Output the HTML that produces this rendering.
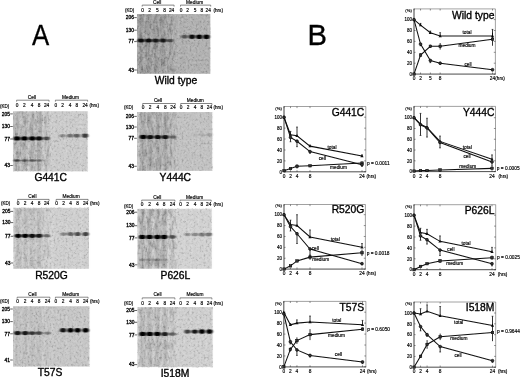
<!DOCTYPE html>
<html><head><meta charset="utf-8"><title>figure</title>
<style>html,body{margin:0;padding:0;background:#fff;}svg{display:block;}text{font-family:"Liberation Sans",sans-serif;}</style>
</head><body>
<svg width="520" height="377" viewBox="0 0 520 377">
<defs>
<linearGradient id="fade" x1="0" x2="1" y1="0" y2="0"><stop offset="0" stop-color="#fff"/><stop offset="1" stop-color="#000"/></linearGradient>
<filter id="b1" x="-50%" y="-10%" width="200%" height="120%"><feGaussianBlur stdDeviation="0.9 0.1"/></filter>
<filter id="b2" x="-50%" y="-150%" width="200%" height="400%"><feGaussianBlur stdDeviation="0.8 0.75"/></filter>
<filter id="nA0" x="0" y="0" width="100%" height="100%"><feTurbulence type="fractalNoise" baseFrequency="0.5 0.42" numOctaves="2" seed="2" result="n"/><feColorMatrix in="n" type="matrix" values="0 0 0 0 0  0 0 0 0 0  0 0 0 0 0  0.42 0 0 0 -0.175" result="d"/><feColorMatrix in="n" type="matrix" values="0 0 0 0 1  0 0 0 0 1  0 0 0 0 1  0 0.42 0 0 -0.175" result="l"/><feMerge><feMergeNode in="d"/><feMergeNode in="l"/></feMerge><feGaussianBlur stdDeviation="0.5"/></filter><filter id="nD0" x="0" y="0" width="100%" height="100%"><feTurbulence type="fractalNoise" baseFrequency="0.4 0.12" numOctaves="2" seed="1" result="n"/><feColorMatrix in="n" type="matrix" values="0 0 0 0 0  0 0 0 0 0  0 0 0 0 0  0 0.7 0 0 -0.27"/><feGaussianBlur stdDeviation="0.5 0.4"/></filter><filter id="nA1" x="0" y="0" width="100%" height="100%"><feTurbulence type="fractalNoise" baseFrequency="0.5 0.42" numOctaves="2" seed="5" result="n"/><feColorMatrix in="n" type="matrix" values="0 0 0 0 0  0 0 0 0 0  0 0 0 0 0  0.42 0 0 0 -0.175" result="d"/><feColorMatrix in="n" type="matrix" values="0 0 0 0 1  0 0 0 0 1  0 0 0 0 1  0 0.42 0 0 -0.175" result="l"/><feMerge><feMergeNode in="d"/><feMergeNode in="l"/></feMerge><feGaussianBlur stdDeviation="0.5"/></filter><filter id="nD1" x="0" y="0" width="100%" height="100%"><feTurbulence type="fractalNoise" baseFrequency="0.4 0.12" numOctaves="2" seed="6" result="n"/><feColorMatrix in="n" type="matrix" values="0 0 0 0 0  0 0 0 0 0  0 0 0 0 0  0 0.7 0 0 -0.27"/><feGaussianBlur stdDeviation="0.5 0.4"/></filter><filter id="nA2" x="0" y="0" width="100%" height="100%"><feTurbulence type="fractalNoise" baseFrequency="0.5 0.42" numOctaves="2" seed="8" result="n"/><feColorMatrix in="n" type="matrix" values="0 0 0 0 0  0 0 0 0 0  0 0 0 0 0  0.42 0 0 0 -0.175" result="d"/><feColorMatrix in="n" type="matrix" values="0 0 0 0 1  0 0 0 0 1  0 0 0 0 1  0 0.42 0 0 -0.175" result="l"/><feMerge><feMergeNode in="d"/><feMergeNode in="l"/></feMerge><feGaussianBlur stdDeviation="0.5"/></filter><filter id="nD2" x="0" y="0" width="100%" height="100%"><feTurbulence type="fractalNoise" baseFrequency="0.4 0.12" numOctaves="2" seed="11" result="n"/><feColorMatrix in="n" type="matrix" values="0 0 0 0 0  0 0 0 0 0  0 0 0 0 0  0 0.7 0 0 -0.27"/><feGaussianBlur stdDeviation="0.5 0.4"/></filter><filter id="nA3" x="0" y="0" width="100%" height="100%"><feTurbulence type="fractalNoise" baseFrequency="0.5 0.42" numOctaves="2" seed="11" result="n"/><feColorMatrix in="n" type="matrix" values="0 0 0 0 0  0 0 0 0 0  0 0 0 0 0  0.42 0 0 0 -0.175" result="d"/><feColorMatrix in="n" type="matrix" values="0 0 0 0 1  0 0 0 0 1  0 0 0 0 1  0 0.42 0 0 -0.175" result="l"/><feMerge><feMergeNode in="d"/><feMergeNode in="l"/></feMerge><feGaussianBlur stdDeviation="0.5"/></filter><filter id="nD3" x="0" y="0" width="100%" height="100%"><feTurbulence type="fractalNoise" baseFrequency="0.4 0.12" numOctaves="2" seed="16" result="n"/><feColorMatrix in="n" type="matrix" values="0 0 0 0 0  0 0 0 0 0  0 0 0 0 0  0 0.7 0 0 -0.27"/><feGaussianBlur stdDeviation="0.5 0.4"/></filter><filter id="nA4" x="0" y="0" width="100%" height="100%"><feTurbulence type="fractalNoise" baseFrequency="0.5 0.42" numOctaves="2" seed="14" result="n"/><feColorMatrix in="n" type="matrix" values="0 0 0 0 0  0 0 0 0 0  0 0 0 0 0  0.42 0 0 0 -0.175" result="d"/><feColorMatrix in="n" type="matrix" values="0 0 0 0 1  0 0 0 0 1  0 0 0 0 1  0 0.42 0 0 -0.175" result="l"/><feMerge><feMergeNode in="d"/><feMergeNode in="l"/></feMerge><feGaussianBlur stdDeviation="0.5"/></filter><filter id="nD4" x="0" y="0" width="100%" height="100%"><feTurbulence type="fractalNoise" baseFrequency="0.4 0.12" numOctaves="2" seed="21" result="n"/><feColorMatrix in="n" type="matrix" values="0 0 0 0 0  0 0 0 0 0  0 0 0 0 0  0 0.7 0 0 -0.27"/><feGaussianBlur stdDeviation="0.5 0.4"/></filter><filter id="nA5" x="0" y="0" width="100%" height="100%"><feTurbulence type="fractalNoise" baseFrequency="0.5 0.42" numOctaves="2" seed="17" result="n"/><feColorMatrix in="n" type="matrix" values="0 0 0 0 0  0 0 0 0 0  0 0 0 0 0  0.42 0 0 0 -0.175" result="d"/><feColorMatrix in="n" type="matrix" values="0 0 0 0 1  0 0 0 0 1  0 0 0 0 1  0 0.42 0 0 -0.175" result="l"/><feMerge><feMergeNode in="d"/><feMergeNode in="l"/></feMerge><feGaussianBlur stdDeviation="0.5"/></filter><filter id="nD5" x="0" y="0" width="100%" height="100%"><feTurbulence type="fractalNoise" baseFrequency="0.4 0.12" numOctaves="2" seed="26" result="n"/><feColorMatrix in="n" type="matrix" values="0 0 0 0 0  0 0 0 0 0  0 0 0 0 0  0 0.7 0 0 -0.27"/><feGaussianBlur stdDeviation="0.5 0.4"/></filter><filter id="nA6" x="0" y="0" width="100%" height="100%"><feTurbulence type="fractalNoise" baseFrequency="0.5 0.42" numOctaves="2" seed="20" result="n"/><feColorMatrix in="n" type="matrix" values="0 0 0 0 0  0 0 0 0 0  0 0 0 0 0  0.42 0 0 0 -0.175" result="d"/><feColorMatrix in="n" type="matrix" values="0 0 0 0 1  0 0 0 0 1  0 0 0 0 1  0 0.42 0 0 -0.175" result="l"/><feMerge><feMergeNode in="d"/><feMergeNode in="l"/></feMerge><feGaussianBlur stdDeviation="0.5"/></filter><filter id="nD6" x="0" y="0" width="100%" height="100%"><feTurbulence type="fractalNoise" baseFrequency="0.4 0.12" numOctaves="2" seed="31" result="n"/><feColorMatrix in="n" type="matrix" values="0 0 0 0 0  0 0 0 0 0  0 0 0 0 0  0 0.7 0 0 -0.27"/><feGaussianBlur stdDeviation="0.5 0.4"/></filter>
<filter id="soft" x="0" y="0" width="100%" height="100%"><feGaussianBlur stdDeviation="0.45"/></filter>
</defs>
<rect width="520" height="377" fill="#fff"/>
<g filter="url(#soft)">
<g>
<rect x="137" y="14" width="73.30" height="59.80" fill="#b4b4b4"/>
<rect x="138.60" y="14.50" width="5" height="58.80" fill="#707070" opacity="0.34" filter="url(#b1)"/>
<rect x="146.10" y="14.50" width="5" height="58.80" fill="#707070" opacity="0.34" filter="url(#b1)"/>
<rect x="153.20" y="14.50" width="5" height="58.80" fill="#707070" opacity="0.34" filter="url(#b1)"/>
<rect x="160.50" y="14.50" width="5" height="58.80" fill="#707070" opacity="0.34" filter="url(#b1)"/>
<rect x="167.70" y="14.50" width="5" height="58.80" fill="#707070" opacity="0.14" filter="url(#b1)"/>
<rect x="178.00" y="14.50" width="6" height="58.80" fill="#888" opacity="0.1" filter="url(#b1)"/>
<rect x="181.60" y="14.50" width="6" height="58.80" fill="#888" opacity="0.1" filter="url(#b1)"/>
<rect x="189.00" y="14.50" width="6" height="58.80" fill="#888" opacity="0.1" filter="url(#b1)"/>
<rect x="196.20" y="14.50" width="6" height="58.80" fill="#888" opacity="0.1" filter="url(#b1)"/>
<rect x="203.40" y="14.50" width="6" height="58.80" fill="#888" opacity="0.1" filter="url(#b1)"/>
<mask id="mk0" maskUnits="userSpaceOnUse" x="137" y="14" width="73.30" height="59.80"><rect x="137" y="14" width="37.30" height="59.80" fill="#fff"/><rect x="174.30" y="14" width="4" height="59.80" fill="url(#fade)"/></mask>
<g mask="url(#mk0)" opacity="0.75"><rect x="137" y="14" width="73.30" height="59.80" filter="url(#nD0)"/></g>
<rect x="137" y="14" width="73.30" height="59.80" filter="url(#nA0)"/>
<ellipse cx="141.10" cy="40.50" rx="3.5" ry="2.11" fill="#000" opacity="0.95" filter="url(#b2)"/>
<ellipse cx="148.60" cy="40.50" rx="3.5" ry="2.11" fill="#000" opacity="0.95" filter="url(#b2)"/>
<ellipse cx="155.70" cy="40.50" rx="3.5" ry="2.02" fill="#000" opacity="0.84" filter="url(#b2)"/>
<ellipse cx="163.00" cy="40.50" rx="3.5" ry="2.02" fill="#000" opacity="0.84" filter="url(#b2)"/>
<ellipse cx="170.20" cy="40.50" rx="3.5" ry="1.75" fill="#000" opacity="0.53" filter="url(#b2)"/>
<ellipse cx="184.60" cy="36.70" rx="3.2" ry="1.95" fill="#000" opacity="0.53" filter="url(#b2)"/>
<ellipse cx="192.00" cy="36.70" rx="3.2" ry="2.23" fill="#000" opacity="0.95" filter="url(#b2)"/>
<ellipse cx="199.20" cy="36.70" rx="3.2" ry="2.27" fill="#000" opacity="1.00" filter="url(#b2)"/>
<ellipse cx="206.40" cy="36.70" rx="3.2" ry="2.27" fill="#000" opacity="1.00" filter="url(#b2)"/>
</g>
<text x="142.70" y="12.00" font-size="4.8" text-anchor="middle" font-weight="normal" fill="#000" stroke="#000" stroke-width="0.16" >0</text>
<text x="149.70" y="12.00" font-size="4.8" text-anchor="middle" font-weight="normal" fill="#000" stroke="#000" stroke-width="0.16" >2</text>
<text x="157.30" y="12.00" font-size="4.8" text-anchor="middle" font-weight="normal" fill="#000" stroke="#000" stroke-width="0.16" >5</text>
<text x="164.60" y="12.00" font-size="4.8" text-anchor="middle" font-weight="normal" fill="#000" stroke="#000" stroke-width="0.16" >8</text>
<text x="171.60" y="12.00" font-size="4.8" text-anchor="middle" font-weight="normal" fill="#000" stroke="#000" stroke-width="0.16" >24</text>
<text x="181.00" y="12.00" font-size="4.8" text-anchor="middle" font-weight="normal" fill="#000" stroke="#000" stroke-width="0.16" >0</text>
<text x="187.50" y="12.00" font-size="4.8" text-anchor="middle" font-weight="normal" fill="#000" stroke="#000" stroke-width="0.16" >2</text>
<text x="195.00" y="12.00" font-size="4.8" text-anchor="middle" font-weight="normal" fill="#000" stroke="#000" stroke-width="0.16" >5</text>
<text x="201.90" y="12.00" font-size="4.8" text-anchor="middle" font-weight="normal" fill="#000" stroke="#000" stroke-width="0.16" >8</text>
<text x="208.20" y="12.00" font-size="4.8" text-anchor="middle" font-weight="normal" fill="#000" stroke="#000" stroke-width="0.16" >24</text>
<text x="125.00" y="12.00" font-size="4.5" text-anchor="start" font-weight="normal" fill="#000" stroke="#000" stroke-width="0.16" >(KD)</text>
<text x="213.50" y="12.00" font-size="4.6" text-anchor="start" font-weight="normal" fill="#000" stroke="#000" stroke-width="0.16" >(hrs)</text>
<text x="157.15" y="3.50" font-size="4.8" text-anchor="middle" font-weight="normal" fill="#000" stroke="#000" stroke-width="0.16" >Cell</text>
<text x="194.60" y="3.50" font-size="4.8" text-anchor="middle" font-weight="normal" fill="#000" stroke="#000" stroke-width="0.16" >Medium</text>
<line x1="142.20" y1="5.10" x2="174.10" y2="5.10" stroke="#222" stroke-width="0.55"/>
<line x1="142.20" y1="5.10" x2="142.20" y2="6.60" stroke="#222" stroke-width="0.5"/>
<line x1="174.10" y1="5.10" x2="174.10" y2="6.60" stroke="#222" stroke-width="0.5"/>
<line x1="180.50" y1="5.10" x2="210.70" y2="5.10" stroke="#222" stroke-width="0.55"/>
<line x1="180.50" y1="5.10" x2="180.50" y2="6.60" stroke="#222" stroke-width="0.5"/>
<line x1="210.70" y1="5.10" x2="210.70" y2="6.60" stroke="#222" stroke-width="0.5"/>
<text x="134.00" y="19.30" font-size="4.9" text-anchor="end" font-weight="normal" fill="#000" stroke="#000" stroke-width="0.3" >206</text>
<line x1="134.20" y1="17.60" x2="136.80" y2="17.60" stroke="#222" stroke-width="0.7"/>
<text x="134.00" y="31.90" font-size="4.9" text-anchor="end" font-weight="normal" fill="#000" stroke="#000" stroke-width="0.3" >130</text>
<line x1="134.20" y1="30.20" x2="136.80" y2="30.20" stroke="#222" stroke-width="0.7"/>
<text x="134.00" y="43.30" font-size="4.9" text-anchor="end" font-weight="normal" fill="#000" stroke="#000" stroke-width="0.3" >77</text>
<line x1="134.20" y1="41.60" x2="136.80" y2="41.60" stroke="#222" stroke-width="0.7"/>
<text x="134.00" y="71.70" font-size="4.9" text-anchor="end" font-weight="normal" fill="#000" stroke="#000" stroke-width="0.3" >43</text>
<line x1="134.20" y1="70.00" x2="136.80" y2="70.00" stroke="#222" stroke-width="0.7"/>
<text x="0.00" y="0.00" font-size="10.3" text-anchor="middle" font-weight="normal" fill="#000" stroke="#000" stroke-width="0.34" transform="translate(176,84) scale(1.0,1)">Wild type</text>
<g>
<rect x="13" y="111.2" width="74.60" height="60.20" fill="#d3d3d3"/>
<rect x="14.60" y="111.70" width="5" height="59.20" fill="#707070" opacity="0.30" filter="url(#b1)"/>
<rect x="21.90" y="111.70" width="5" height="59.20" fill="#707070" opacity="0.30" filter="url(#b1)"/>
<rect x="29.70" y="111.70" width="5" height="59.20" fill="#707070" opacity="0.30" filter="url(#b1)"/>
<rect x="36.50" y="111.70" width="5" height="59.20" fill="#707070" opacity="0.30" filter="url(#b1)"/>
<rect x="44.10" y="111.70" width="5" height="59.20" fill="#707070" opacity="0.12" filter="url(#b1)"/>
<rect x="52.90" y="111.70" width="6" height="59.20" fill="#888" opacity="0.1" filter="url(#b1)"/>
<rect x="59.50" y="111.70" width="6" height="59.20" fill="#888" opacity="0.1" filter="url(#b1)"/>
<rect x="67.00" y="111.70" width="6" height="59.20" fill="#888" opacity="0.1" filter="url(#b1)"/>
<rect x="73.80" y="111.70" width="6" height="59.20" fill="#888" opacity="0.1" filter="url(#b1)"/>
<rect x="82.10" y="111.70" width="6" height="59.20" fill="#888" opacity="0.1" filter="url(#b1)"/>
<mask id="mk1" maskUnits="userSpaceOnUse" x="13" y="111.2" width="74.60" height="60.20"><rect x="13" y="111.2" width="36.25" height="60.20" fill="#fff"/><rect x="49.25" y="111.2" width="4" height="60.20" fill="url(#fade)"/></mask>
<g mask="url(#mk1)" opacity="0.66"><rect x="13" y="111.2" width="74.60" height="60.20" filter="url(#nD1)"/></g>
<rect x="13" y="111.2" width="74.60" height="60.20" filter="url(#nA1)"/>
<ellipse cx="17.10" cy="138.40" rx="3.5" ry="2.20" fill="#000" opacity="1.00" filter="url(#b2)"/>
<ellipse cx="24.40" cy="138.40" rx="3.5" ry="2.20" fill="#000" opacity="1.00" filter="url(#b2)"/>
<ellipse cx="32.20" cy="138.40" rx="3.5" ry="2.16" fill="#000" opacity="1.00" filter="url(#b2)"/>
<ellipse cx="39.00" cy="138.40" rx="3.5" ry="2.11" fill="#000" opacity="0.95" filter="url(#b2)"/>
<ellipse cx="46.60" cy="138.40" rx="3.5" ry="1.80" fill="#000" opacity="0.58" filter="url(#b2)"/>
<ellipse cx="62.50" cy="135.70" rx="3.2" ry="1.81" fill="#000" opacity="0.32" filter="url(#b2)"/>
<ellipse cx="70.00" cy="135.70" rx="3.2" ry="1.89" fill="#000" opacity="0.44" filter="url(#b2)"/>
<ellipse cx="76.80" cy="135.70" rx="3.2" ry="1.95" fill="#000" opacity="0.53" filter="url(#b2)"/>
<ellipse cx="85.10" cy="135.70" rx="3.2" ry="2.08" fill="#000" opacity="0.71" filter="url(#b2)"/>
<ellipse cx="17.10" cy="160.50" rx="3.4" ry="1.2" fill="#000" opacity="0.65" filter="url(#b2)"/>
<ellipse cx="24.40" cy="160.50" rx="3.4" ry="1.2" fill="#000" opacity="0.52" filter="url(#b2)"/>
<ellipse cx="32.20" cy="160.50" rx="3.4" ry="1.2" fill="#000" opacity="0.52" filter="url(#b2)"/>
<ellipse cx="39.00" cy="160.50" rx="3.4" ry="1.2" fill="#000" opacity="0.39" filter="url(#b2)"/>
<ellipse cx="46.60" cy="160.50" rx="3.4" ry="1.2" fill="#000" opacity="0.07" filter="url(#b2)"/>
</g>
<text x="17.10" y="107.00" font-size="4.8" text-anchor="middle" font-weight="normal" fill="#000" stroke="#000" stroke-width="0.16" >0</text>
<text x="24.40" y="107.00" font-size="4.8" text-anchor="middle" font-weight="normal" fill="#000" stroke="#000" stroke-width="0.16" >2</text>
<text x="32.20" y="107.00" font-size="4.8" text-anchor="middle" font-weight="normal" fill="#000" stroke="#000" stroke-width="0.16" >4</text>
<text x="39.00" y="107.00" font-size="4.8" text-anchor="middle" font-weight="normal" fill="#000" stroke="#000" stroke-width="0.16" >8</text>
<text x="46.60" y="107.00" font-size="4.8" text-anchor="middle" font-weight="normal" fill="#000" stroke="#000" stroke-width="0.16" >24</text>
<text x="55.90" y="107.00" font-size="4.8" text-anchor="middle" font-weight="normal" fill="#000" stroke="#000" stroke-width="0.16" >0</text>
<text x="62.50" y="107.00" font-size="4.8" text-anchor="middle" font-weight="normal" fill="#000" stroke="#000" stroke-width="0.16" >2</text>
<text x="70.00" y="107.00" font-size="4.8" text-anchor="middle" font-weight="normal" fill="#000" stroke="#000" stroke-width="0.16" >4</text>
<text x="76.80" y="107.00" font-size="4.8" text-anchor="middle" font-weight="normal" fill="#000" stroke="#000" stroke-width="0.16" >8</text>
<text x="85.10" y="107.00" font-size="4.8" text-anchor="middle" font-weight="normal" fill="#000" stroke="#000" stroke-width="0.16" >24</text>
<text x="0.00" y="108.20" font-size="4.5" text-anchor="start" font-weight="normal" fill="#000" stroke="#000" stroke-width="0.16" >(KD)</text>
<text x="89.50" y="107.20" font-size="4.6" text-anchor="start" font-weight="normal" fill="#000" stroke="#000" stroke-width="0.16" >(hrs)</text>
<text x="31.85" y="98.60" font-size="4.8" text-anchor="middle" font-weight="normal" fill="#000" stroke="#000" stroke-width="0.16" >Cell</text>
<text x="70.50" y="98.60" font-size="4.8" text-anchor="middle" font-weight="normal" fill="#000" stroke="#000" stroke-width="0.16" >Medium</text>
<line x1="16.60" y1="100.20" x2="49.10" y2="100.20" stroke="#222" stroke-width="0.55"/>
<line x1="16.60" y1="100.20" x2="16.60" y2="101.70" stroke="#222" stroke-width="0.5"/>
<line x1="49.10" y1="100.20" x2="49.10" y2="101.70" stroke="#222" stroke-width="0.5"/>
<line x1="55.40" y1="100.20" x2="87.60" y2="100.20" stroke="#222" stroke-width="0.55"/>
<line x1="55.40" y1="100.20" x2="55.40" y2="101.70" stroke="#222" stroke-width="0.5"/>
<line x1="87.60" y1="100.20" x2="87.60" y2="101.70" stroke="#222" stroke-width="0.5"/>
<text x="10.00" y="115.60" font-size="4.9" text-anchor="end" font-weight="normal" fill="#000" stroke="#000" stroke-width="0.3" >205</text>
<line x1="10.20" y1="113.90" x2="12.80" y2="113.90" stroke="#222" stroke-width="0.7"/>
<text x="10.00" y="128.20" font-size="4.9" text-anchor="end" font-weight="normal" fill="#000" stroke="#000" stroke-width="0.3" >130</text>
<line x1="10.20" y1="126.50" x2="12.80" y2="126.50" stroke="#222" stroke-width="0.7"/>
<text x="10.00" y="140.70" font-size="4.9" text-anchor="end" font-weight="normal" fill="#000" stroke="#000" stroke-width="0.3" >77</text>
<line x1="10.20" y1="139.00" x2="12.80" y2="139.00" stroke="#222" stroke-width="0.7"/>
<text x="10.00" y="167.20" font-size="4.9" text-anchor="end" font-weight="normal" fill="#000" stroke="#000" stroke-width="0.3" >43</text>
<line x1="10.20" y1="165.50" x2="12.80" y2="165.50" stroke="#222" stroke-width="0.7"/>
<text x="0.00" y="0.00" font-size="10.3" text-anchor="middle" font-weight="normal" fill="#000" stroke="#000" stroke-width="0.34" transform="translate(50.7,181.4) scale(1.0,1)">G441C</text>
<g>
<rect x="137" y="112" width="75.20" height="58.90" fill="#c8c8c8"/>
<rect x="140.70" y="112.50" width="5" height="57.90" fill="#707070" opacity="0.33" filter="url(#b1)"/>
<rect x="147.70" y="112.50" width="5" height="57.90" fill="#707070" opacity="0.33" filter="url(#b1)"/>
<rect x="155.30" y="112.50" width="5" height="57.90" fill="#707070" opacity="0.33" filter="url(#b1)"/>
<rect x="162.80" y="112.50" width="5" height="57.90" fill="#707070" opacity="0.33" filter="url(#b1)"/>
<rect x="170.40" y="112.50" width="5" height="57.90" fill="#707070" opacity="0.13" filter="url(#b1)"/>
<rect x="178.20" y="112.50" width="6" height="57.90" fill="#888" opacity="0.1" filter="url(#b1)"/>
<rect x="185.00" y="112.50" width="6" height="57.90" fill="#888" opacity="0.1" filter="url(#b1)"/>
<rect x="192.00" y="112.50" width="6" height="57.90" fill="#888" opacity="0.1" filter="url(#b1)"/>
<rect x="198.90" y="112.50" width="6" height="57.90" fill="#888" opacity="0.1" filter="url(#b1)"/>
<rect x="206.40" y="112.50" width="6" height="57.90" fill="#888" opacity="0.1" filter="url(#b1)"/>
<mask id="mk2" maskUnits="userSpaceOnUse" x="137" y="112" width="75.20" height="58.90"><rect x="137" y="112" width="38.05" height="58.90" fill="#fff"/><rect x="175.05" y="112" width="4" height="58.90" fill="url(#fade)"/></mask>
<g mask="url(#mk2)" opacity="0.73"><rect x="137" y="112" width="75.20" height="58.90" filter="url(#nD2)"/></g>
<rect x="137" y="112" width="75.20" height="58.90" filter="url(#nA2)"/>
<ellipse cx="143.20" cy="137.00" rx="3.5" ry="2.16" fill="#000" opacity="1.00" filter="url(#b2)"/>
<ellipse cx="150.20" cy="137.00" rx="3.5" ry="2.11" fill="#000" opacity="0.95" filter="url(#b2)"/>
<ellipse cx="157.80" cy="137.00" rx="3.5" ry="2.11" fill="#000" opacity="0.95" filter="url(#b2)"/>
<ellipse cx="165.30" cy="137.00" rx="3.5" ry="2.06" fill="#000" opacity="0.89" filter="url(#b2)"/>
<ellipse cx="172.90" cy="137.00" rx="3.5" ry="1.68" fill="#000" opacity="0.44" filter="url(#b2)"/>
<ellipse cx="195.00" cy="134.80" rx="3.2" ry="1.64" fill="#000" opacity="0.05" filter="url(#b2)"/>
<ellipse cx="201.90" cy="134.80" rx="3.2" ry="1.67" fill="#000" opacity="0.11" filter="url(#b2)"/>
<ellipse cx="209.40" cy="134.80" rx="3.2" ry="1.71" fill="#000" opacity="0.16" filter="url(#b2)"/>
</g>
<text x="143.20" y="108.90" font-size="4.8" text-anchor="middle" font-weight="normal" fill="#000" stroke="#000" stroke-width="0.16" >0</text>
<text x="150.20" y="108.90" font-size="4.8" text-anchor="middle" font-weight="normal" fill="#000" stroke="#000" stroke-width="0.16" >2</text>
<text x="157.80" y="108.90" font-size="4.8" text-anchor="middle" font-weight="normal" fill="#000" stroke="#000" stroke-width="0.16" >4</text>
<text x="165.30" y="108.90" font-size="4.8" text-anchor="middle" font-weight="normal" fill="#000" stroke="#000" stroke-width="0.16" >8</text>
<text x="172.90" y="108.90" font-size="4.8" text-anchor="middle" font-weight="normal" fill="#000" stroke="#000" stroke-width="0.16" >24</text>
<text x="181.20" y="108.90" font-size="4.8" text-anchor="middle" font-weight="normal" fill="#000" stroke="#000" stroke-width="0.16" >0</text>
<text x="188.00" y="108.90" font-size="4.8" text-anchor="middle" font-weight="normal" fill="#000" stroke="#000" stroke-width="0.16" >2</text>
<text x="195.00" y="108.90" font-size="4.8" text-anchor="middle" font-weight="normal" fill="#000" stroke="#000" stroke-width="0.16" >4</text>
<text x="201.90" y="108.90" font-size="4.8" text-anchor="middle" font-weight="normal" fill="#000" stroke="#000" stroke-width="0.16" >8</text>
<text x="209.40" y="108.90" font-size="4.8" text-anchor="middle" font-weight="normal" fill="#000" stroke="#000" stroke-width="0.16" >24</text>
<text x="124.00" y="108.80" font-size="4.5" text-anchor="start" font-weight="normal" fill="#000" stroke="#000" stroke-width="0.16" >(KD)</text>
<text x="213.50" y="108.90" font-size="4.6" text-anchor="start" font-weight="normal" fill="#000" stroke="#000" stroke-width="0.16" >(hrs)</text>
<text x="158.05" y="101.90" font-size="4.8" text-anchor="middle" font-weight="normal" fill="#000" stroke="#000" stroke-width="0.16" >Cell</text>
<text x="195.30" y="101.90" font-size="4.8" text-anchor="middle" font-weight="normal" fill="#000" stroke="#000" stroke-width="0.16" >Medium</text>
<line x1="142.70" y1="103.50" x2="175.40" y2="103.50" stroke="#222" stroke-width="0.55"/>
<line x1="142.70" y1="103.50" x2="142.70" y2="105.00" stroke="#222" stroke-width="0.5"/>
<line x1="175.40" y1="103.50" x2="175.40" y2="105.00" stroke="#222" stroke-width="0.5"/>
<line x1="180.70" y1="103.50" x2="211.90" y2="103.50" stroke="#222" stroke-width="0.55"/>
<line x1="180.70" y1="103.50" x2="180.70" y2="105.00" stroke="#222" stroke-width="0.5"/>
<line x1="211.90" y1="103.50" x2="211.90" y2="105.00" stroke="#222" stroke-width="0.5"/>
<text x="134.00" y="118.10" font-size="4.9" text-anchor="end" font-weight="normal" fill="#000" stroke="#000" stroke-width="0.3" >206</text>
<line x1="134.20" y1="116.40" x2="136.80" y2="116.40" stroke="#222" stroke-width="0.7"/>
<text x="134.00" y="128.70" font-size="4.9" text-anchor="end" font-weight="normal" fill="#000" stroke="#000" stroke-width="0.3" >130</text>
<line x1="134.20" y1="127.00" x2="136.80" y2="127.00" stroke="#222" stroke-width="0.7"/>
<text x="134.00" y="140.00" font-size="4.9" text-anchor="end" font-weight="normal" fill="#000" stroke="#000" stroke-width="0.3" >77</text>
<line x1="134.20" y1="138.30" x2="136.80" y2="138.30" stroke="#222" stroke-width="0.7"/>
<text x="134.00" y="168.00" font-size="4.9" text-anchor="end" font-weight="normal" fill="#000" stroke="#000" stroke-width="0.3" >43</text>
<line x1="134.20" y1="166.30" x2="136.80" y2="166.30" stroke="#222" stroke-width="0.7"/>
<text x="0.00" y="0.00" font-size="10.3" text-anchor="middle" font-weight="normal" fill="#000" stroke="#000" stroke-width="0.34" transform="translate(175.3,181) scale(1.0,1)">Y444C</text>
<g>
<rect x="13.4" y="207.8" width="75.60" height="61.00" fill="#d7d7d7"/>
<rect x="15.60" y="208.30" width="5" height="60.00" fill="#707070" opacity="0.20" filter="url(#b1)"/>
<rect x="22.70" y="208.30" width="5" height="60.00" fill="#707070" opacity="0.20" filter="url(#b1)"/>
<rect x="29.70" y="208.30" width="5" height="60.00" fill="#707070" opacity="0.20" filter="url(#b1)"/>
<rect x="36.50" y="208.30" width="5" height="60.00" fill="#707070" opacity="0.20" filter="url(#b1)"/>
<rect x="44.10" y="208.30" width="5" height="60.00" fill="#707070" opacity="0.08" filter="url(#b1)"/>
<rect x="53.70" y="208.30" width="6" height="60.00" fill="#888" opacity="0.1" filter="url(#b1)"/>
<rect x="60.50" y="208.30" width="6" height="60.00" fill="#888" opacity="0.1" filter="url(#b1)"/>
<rect x="67.50" y="208.30" width="6" height="60.00" fill="#888" opacity="0.1" filter="url(#b1)"/>
<rect x="74.60" y="208.30" width="6" height="60.00" fill="#888" opacity="0.1" filter="url(#b1)"/>
<rect x="82.60" y="208.30" width="6" height="60.00" fill="#888" opacity="0.1" filter="url(#b1)"/>
<mask id="mk3" maskUnits="userSpaceOnUse" x="13.4" y="207.8" width="75.60" height="61.00"><rect x="13.4" y="207.8" width="36.25" height="61.00" fill="#fff"/><rect x="49.65" y="207.8" width="4" height="61.00" fill="url(#fade)"/></mask>
<g mask="url(#mk3)" opacity="0.44"><rect x="13.4" y="207.8" width="75.60" height="61.00" filter="url(#nD3)"/></g>
<rect x="13.4" y="207.8" width="75.60" height="61.00" filter="url(#nA3)"/>
<ellipse cx="18.10" cy="235.80" rx="3.5" ry="2.16" fill="#000" opacity="1.00" filter="url(#b2)"/>
<ellipse cx="25.20" cy="235.80" rx="3.5" ry="2.16" fill="#000" opacity="1.00" filter="url(#b2)"/>
<ellipse cx="32.20" cy="235.80" rx="3.5" ry="2.11" fill="#000" opacity="0.95" filter="url(#b2)"/>
<ellipse cx="39.00" cy="235.80" rx="3.5" ry="2.06" fill="#000" opacity="0.89" filter="url(#b2)"/>
<ellipse cx="46.60" cy="235.80" rx="3.5" ry="1.71" fill="#000" opacity="0.47" filter="url(#b2)"/>
<ellipse cx="63.50" cy="234.00" rx="3.2" ry="1.84" fill="#000" opacity="0.37" filter="url(#b2)"/>
<ellipse cx="70.50" cy="234.00" rx="3.2" ry="1.95" fill="#000" opacity="0.53" filter="url(#b2)"/>
<ellipse cx="77.60" cy="234.00" rx="3.2" ry="2.02" fill="#000" opacity="0.63" filter="url(#b2)"/>
<ellipse cx="85.60" cy="234.00" rx="3.2" ry="2.06" fill="#000" opacity="0.68" filter="url(#b2)"/>
</g>
<text x="18.10" y="205.00" font-size="4.8" text-anchor="middle" font-weight="normal" fill="#000" stroke="#000" stroke-width="0.16" >0</text>
<text x="25.20" y="205.00" font-size="4.8" text-anchor="middle" font-weight="normal" fill="#000" stroke="#000" stroke-width="0.16" >2</text>
<text x="32.20" y="205.00" font-size="4.8" text-anchor="middle" font-weight="normal" fill="#000" stroke="#000" stroke-width="0.16" >4</text>
<text x="39.00" y="205.00" font-size="4.8" text-anchor="middle" font-weight="normal" fill="#000" stroke="#000" stroke-width="0.16" >8</text>
<text x="46.60" y="205.00" font-size="4.8" text-anchor="middle" font-weight="normal" fill="#000" stroke="#000" stroke-width="0.16" >24</text>
<text x="56.70" y="205.00" font-size="4.8" text-anchor="middle" font-weight="normal" fill="#000" stroke="#000" stroke-width="0.16" >0</text>
<text x="63.50" y="205.00" font-size="4.8" text-anchor="middle" font-weight="normal" fill="#000" stroke="#000" stroke-width="0.16" >2</text>
<text x="70.50" y="205.00" font-size="4.8" text-anchor="middle" font-weight="normal" fill="#000" stroke="#000" stroke-width="0.16" >4</text>
<text x="77.60" y="205.00" font-size="4.8" text-anchor="middle" font-weight="normal" fill="#000" stroke="#000" stroke-width="0.16" >8</text>
<text x="85.60" y="205.00" font-size="4.8" text-anchor="middle" font-weight="normal" fill="#000" stroke="#000" stroke-width="0.16" >24</text>
<text x="1.00" y="205.20" font-size="4.5" text-anchor="start" font-weight="normal" fill="#000" stroke="#000" stroke-width="0.16" >(KD)</text>
<text x="90.00" y="205.00" font-size="4.6" text-anchor="start" font-weight="normal" fill="#000" stroke="#000" stroke-width="0.16" >(hrs)</text>
<text x="32.35" y="197.80" font-size="4.8" text-anchor="middle" font-weight="normal" fill="#000" stroke="#000" stroke-width="0.16" >Cell</text>
<text x="71.15" y="197.80" font-size="4.8" text-anchor="middle" font-weight="normal" fill="#000" stroke="#000" stroke-width="0.16" >Medium</text>
<line x1="17.60" y1="199.40" x2="49.10" y2="199.40" stroke="#222" stroke-width="0.55"/>
<line x1="17.60" y1="199.40" x2="17.60" y2="200.90" stroke="#222" stroke-width="0.5"/>
<line x1="49.10" y1="199.40" x2="49.10" y2="200.90" stroke="#222" stroke-width="0.5"/>
<line x1="56.20" y1="199.40" x2="88.10" y2="199.40" stroke="#222" stroke-width="0.55"/>
<line x1="56.20" y1="199.40" x2="56.20" y2="200.90" stroke="#222" stroke-width="0.5"/>
<line x1="88.10" y1="199.40" x2="88.10" y2="200.90" stroke="#222" stroke-width="0.5"/>
<text x="10.40" y="213.10" font-size="4.9" text-anchor="end" font-weight="normal" fill="#000" stroke="#000" stroke-width="0.3" >205</text>
<line x1="10.60" y1="211.40" x2="13.20" y2="211.40" stroke="#222" stroke-width="0.7"/>
<text x="10.40" y="224.30" font-size="4.9" text-anchor="end" font-weight="normal" fill="#000" stroke="#000" stroke-width="0.3" >130</text>
<line x1="10.60" y1="222.60" x2="13.20" y2="222.60" stroke="#222" stroke-width="0.7"/>
<text x="10.40" y="238.00" font-size="4.9" text-anchor="end" font-weight="normal" fill="#000" stroke="#000" stroke-width="0.3" >77</text>
<line x1="10.60" y1="236.30" x2="13.20" y2="236.30" stroke="#222" stroke-width="0.7"/>
<text x="10.40" y="264.70" font-size="4.9" text-anchor="end" font-weight="normal" fill="#000" stroke="#000" stroke-width="0.3" >43</text>
<line x1="10.60" y1="263.00" x2="13.20" y2="263.00" stroke="#222" stroke-width="0.7"/>
<text x="0.00" y="0.00" font-size="10.3" text-anchor="middle" font-weight="normal" fill="#000" stroke="#000" stroke-width="0.34" transform="translate(51.5,278.6) scale(1.0,1)">R520G</text>
<g>
<rect x="137.4" y="208.8" width="74.30" height="60.00" fill="#dadada"/>
<rect x="139.70" y="209.30" width="5" height="59.00" fill="#707070" opacity="0.36" filter="url(#b1)"/>
<rect x="147.00" y="209.30" width="5" height="59.00" fill="#707070" opacity="0.36" filter="url(#b1)"/>
<rect x="154.80" y="209.30" width="5" height="59.00" fill="#707070" opacity="0.36" filter="url(#b1)"/>
<rect x="161.60" y="209.30" width="5" height="59.00" fill="#707070" opacity="0.36" filter="url(#b1)"/>
<rect x="169.90" y="209.30" width="5" height="59.00" fill="#707070" opacity="0.14" filter="url(#b1)"/>
<rect x="177.50" y="209.30" width="6" height="59.00" fill="#888" opacity="0.1" filter="url(#b1)"/>
<rect x="184.50" y="209.30" width="6" height="59.00" fill="#888" opacity="0.1" filter="url(#b1)"/>
<rect x="192.00" y="209.30" width="6" height="59.00" fill="#888" opacity="0.1" filter="url(#b1)"/>
<rect x="198.90" y="209.30" width="6" height="59.00" fill="#888" opacity="0.1" filter="url(#b1)"/>
<rect x="205.70" y="209.30" width="6" height="59.00" fill="#888" opacity="0.1" filter="url(#b1)"/>
<mask id="mk4" maskUnits="userSpaceOnUse" x="137.4" y="208.8" width="74.30" height="60.00"><rect x="137.4" y="208.8" width="37.05" height="60.00" fill="#fff"/><rect x="174.45" y="208.8" width="4" height="60.00" fill="url(#fade)"/></mask>
<g mask="url(#mk4)" opacity="0.79"><rect x="137.4" y="208.8" width="74.30" height="60.00" filter="url(#nD4)"/></g>
<rect x="137.4" y="208.8" width="74.30" height="60.00" filter="url(#nA4)"/>
<ellipse cx="142.20" cy="236.90" rx="3.5" ry="2.20" fill="#000" opacity="1.00" filter="url(#b2)"/>
<ellipse cx="149.50" cy="236.90" rx="3.5" ry="2.20" fill="#000" opacity="1.00" filter="url(#b2)"/>
<ellipse cx="157.30" cy="236.90" rx="3.5" ry="2.16" fill="#000" opacity="1.00" filter="url(#b2)"/>
<ellipse cx="164.10" cy="236.90" rx="3.5" ry="2.16" fill="#000" opacity="1.00" filter="url(#b2)"/>
<ellipse cx="172.40" cy="236.90" rx="3.5" ry="1.80" fill="#000" opacity="0.58" filter="url(#b2)"/>
<ellipse cx="187.50" cy="234.50" rx="3.2" ry="1.80" fill="#000" opacity="0.29" filter="url(#b2)"/>
<ellipse cx="195.00" cy="234.50" rx="3.2" ry="1.83" fill="#000" opacity="0.35" filter="url(#b2)"/>
<ellipse cx="201.90" cy="234.50" rx="3.2" ry="1.88" fill="#000" opacity="0.42" filter="url(#b2)"/>
<ellipse cx="208.70" cy="234.50" rx="3.2" ry="1.89" fill="#000" opacity="0.44" filter="url(#b2)"/>
<ellipse cx="142.20" cy="259.80" rx="3.4" ry="1.2" fill="#000" opacity="0.21" filter="url(#b2)"/>
<ellipse cx="149.50" cy="259.80" rx="3.4" ry="1.2" fill="#000" opacity="0.21" filter="url(#b2)"/>
<ellipse cx="157.30" cy="259.80" rx="3.4" ry="1.2" fill="#000" opacity="0.21" filter="url(#b2)"/>
<ellipse cx="164.10" cy="259.80" rx="3.4" ry="1.2" fill="#000" opacity="0.17" filter="url(#b2)"/>
</g>
<text x="142.20" y="206.30" font-size="4.8" text-anchor="middle" font-weight="normal" fill="#000" stroke="#000" stroke-width="0.16" >0</text>
<text x="149.50" y="206.30" font-size="4.8" text-anchor="middle" font-weight="normal" fill="#000" stroke="#000" stroke-width="0.16" >2</text>
<text x="157.30" y="206.30" font-size="4.8" text-anchor="middle" font-weight="normal" fill="#000" stroke="#000" stroke-width="0.16" >4</text>
<text x="164.10" y="206.30" font-size="4.8" text-anchor="middle" font-weight="normal" fill="#000" stroke="#000" stroke-width="0.16" >8</text>
<text x="172.40" y="206.30" font-size="4.8" text-anchor="middle" font-weight="normal" fill="#000" stroke="#000" stroke-width="0.16" >24</text>
<text x="180.50" y="206.30" font-size="4.8" text-anchor="middle" font-weight="normal" fill="#000" stroke="#000" stroke-width="0.16" >0</text>
<text x="187.50" y="206.30" font-size="4.8" text-anchor="middle" font-weight="normal" fill="#000" stroke="#000" stroke-width="0.16" >2</text>
<text x="195.00" y="206.30" font-size="4.8" text-anchor="middle" font-weight="normal" fill="#000" stroke="#000" stroke-width="0.16" >4</text>
<text x="201.90" y="206.30" font-size="4.8" text-anchor="middle" font-weight="normal" fill="#000" stroke="#000" stroke-width="0.16" >8</text>
<text x="208.70" y="206.30" font-size="4.8" text-anchor="middle" font-weight="normal" fill="#000" stroke="#000" stroke-width="0.16" >24</text>
<text x="124.00" y="208.00" font-size="4.5" text-anchor="start" font-weight="normal" fill="#000" stroke="#000" stroke-width="0.16" >(KD)</text>
<text x="213.50" y="206.30" font-size="4.6" text-anchor="start" font-weight="normal" fill="#000" stroke="#000" stroke-width="0.16" >(hrs)</text>
<text x="157.30" y="198.50" font-size="4.8" text-anchor="middle" font-weight="normal" fill="#000" stroke="#000" stroke-width="0.16" >Cell</text>
<text x="194.60" y="198.50" font-size="4.8" text-anchor="middle" font-weight="normal" fill="#000" stroke="#000" stroke-width="0.16" >Medium</text>
<line x1="141.70" y1="200.10" x2="174.90" y2="200.10" stroke="#222" stroke-width="0.55"/>
<line x1="141.70" y1="200.10" x2="141.70" y2="201.60" stroke="#222" stroke-width="0.5"/>
<line x1="174.90" y1="200.10" x2="174.90" y2="201.60" stroke="#222" stroke-width="0.5"/>
<line x1="180.00" y1="200.10" x2="211.20" y2="200.10" stroke="#222" stroke-width="0.55"/>
<line x1="180.00" y1="200.10" x2="180.00" y2="201.60" stroke="#222" stroke-width="0.5"/>
<line x1="211.20" y1="200.10" x2="211.20" y2="201.60" stroke="#222" stroke-width="0.5"/>
<text x="134.40" y="213.90" font-size="4.9" text-anchor="end" font-weight="normal" fill="#000" stroke="#000" stroke-width="0.3" >206</text>
<line x1="134.60" y1="212.20" x2="137.20" y2="212.20" stroke="#222" stroke-width="0.7"/>
<text x="134.40" y="227.40" font-size="4.9" text-anchor="end" font-weight="normal" fill="#000" stroke="#000" stroke-width="0.3" >130</text>
<line x1="134.60" y1="225.70" x2="137.20" y2="225.70" stroke="#222" stroke-width="0.7"/>
<text x="134.40" y="239.60" font-size="4.9" text-anchor="end" font-weight="normal" fill="#000" stroke="#000" stroke-width="0.3" >77</text>
<line x1="134.60" y1="237.90" x2="137.20" y2="237.90" stroke="#222" stroke-width="0.7"/>
<text x="134.40" y="266.50" font-size="4.9" text-anchor="end" font-weight="normal" fill="#000" stroke="#000" stroke-width="0.3" >43</text>
<line x1="134.60" y1="264.80" x2="137.20" y2="264.80" stroke="#222" stroke-width="0.7"/>
<text x="0.00" y="0.00" font-size="10.3" text-anchor="middle" font-weight="normal" fill="#000" stroke="#000" stroke-width="0.34" transform="translate(175.4,279.1) scale(1.0,1)">P626L</text>
<g>
<rect x="13" y="306.2" width="76.40" height="60.40" fill="#cdcdcd"/>
<rect x="15.10" y="306.70" width="5" height="59.40" fill="#707070" opacity="0.12" filter="url(#b1)"/>
<rect x="22.70" y="306.70" width="5" height="59.40" fill="#707070" opacity="0.12" filter="url(#b1)"/>
<rect x="29.70" y="306.70" width="5" height="59.40" fill="#707070" opacity="0.12" filter="url(#b1)"/>
<rect x="36.50" y="306.70" width="5" height="59.40" fill="#707070" opacity="0.12" filter="url(#b1)"/>
<rect x="44.90" y="306.70" width="5" height="59.40" fill="#707070" opacity="0.05" filter="url(#b1)"/>
<rect x="52.90" y="306.70" width="6" height="59.40" fill="#888" opacity="0.1" filter="url(#b1)"/>
<rect x="60.00" y="306.70" width="6" height="59.40" fill="#888" opacity="0.1" filter="url(#b1)"/>
<rect x="67.50" y="306.70" width="6" height="59.40" fill="#888" opacity="0.1" filter="url(#b1)"/>
<rect x="74.60" y="306.70" width="6" height="59.40" fill="#888" opacity="0.1" filter="url(#b1)"/>
<rect x="82.60" y="306.70" width="6" height="59.40" fill="#888" opacity="0.1" filter="url(#b1)"/>
<mask id="mk5" maskUnits="userSpaceOnUse" x="13" y="306.2" width="76.40" height="60.40"><rect x="13" y="306.2" width="36.65" height="60.40" fill="#fff"/><rect x="49.65" y="306.2" width="4" height="60.40" fill="url(#fade)"/></mask>
<g mask="url(#mk5)" opacity="0.26"><rect x="13" y="306.2" width="76.40" height="60.40" filter="url(#nD5)"/></g>
<rect x="13" y="306.2" width="76.40" height="60.40" filter="url(#nA5)"/>
<ellipse cx="17.60" cy="333.10" rx="3.5" ry="2.06" fill="#000" opacity="0.89" filter="url(#b2)"/>
<ellipse cx="25.20" cy="333.10" rx="3.5" ry="2.06" fill="#000" opacity="0.89" filter="url(#b2)"/>
<ellipse cx="32.20" cy="333.10" rx="3.5" ry="1.93" fill="#000" opacity="0.73" filter="url(#b2)"/>
<ellipse cx="39.00" cy="333.10" rx="3.5" ry="1.84" fill="#000" opacity="0.63" filter="url(#b2)"/>
<ellipse cx="47.40" cy="333.10" rx="3.5" ry="1.61" fill="#000" opacity="0.37" filter="url(#b2)"/>
<ellipse cx="63.00" cy="330.30" rx="3.2" ry="2.20" fill="#000" opacity="0.89" filter="url(#b2)"/>
<ellipse cx="70.50" cy="330.30" rx="3.2" ry="2.27" fill="#000" opacity="1.00" filter="url(#b2)"/>
<ellipse cx="77.60" cy="330.30" rx="3.2" ry="2.27" fill="#000" opacity="1.00" filter="url(#b2)"/>
<ellipse cx="85.60" cy="330.30" rx="3.2" ry="2.27" fill="#000" opacity="1.00" filter="url(#b2)"/>
</g>
<text x="17.60" y="302.70" font-size="4.8" text-anchor="middle" font-weight="normal" fill="#000" stroke="#000" stroke-width="0.16" >0</text>
<text x="25.20" y="302.70" font-size="4.8" text-anchor="middle" font-weight="normal" fill="#000" stroke="#000" stroke-width="0.16" >2</text>
<text x="32.20" y="302.70" font-size="4.8" text-anchor="middle" font-weight="normal" fill="#000" stroke="#000" stroke-width="0.16" >4</text>
<text x="39.00" y="302.70" font-size="4.8" text-anchor="middle" font-weight="normal" fill="#000" stroke="#000" stroke-width="0.16" >8</text>
<text x="47.40" y="302.70" font-size="4.8" text-anchor="middle" font-weight="normal" fill="#000" stroke="#000" stroke-width="0.16" >24</text>
<text x="55.90" y="302.70" font-size="4.8" text-anchor="middle" font-weight="normal" fill="#000" stroke="#000" stroke-width="0.16" >0</text>
<text x="63.00" y="302.70" font-size="4.8" text-anchor="middle" font-weight="normal" fill="#000" stroke="#000" stroke-width="0.16" >2</text>
<text x="70.50" y="302.70" font-size="4.8" text-anchor="middle" font-weight="normal" fill="#000" stroke="#000" stroke-width="0.16" >4</text>
<text x="77.60" y="302.70" font-size="4.8" text-anchor="middle" font-weight="normal" fill="#000" stroke="#000" stroke-width="0.16" >8</text>
<text x="85.60" y="302.70" font-size="4.8" text-anchor="middle" font-weight="normal" fill="#000" stroke="#000" stroke-width="0.16" >24</text>
<text x="0.00" y="303.00" font-size="4.5" text-anchor="start" font-weight="normal" fill="#000" stroke="#000" stroke-width="0.16" >(KD)</text>
<text x="90.00" y="302.70" font-size="4.6" text-anchor="start" font-weight="normal" fill="#000" stroke="#000" stroke-width="0.16" >(hrs)</text>
<text x="32.50" y="295.60" font-size="4.8" text-anchor="middle" font-weight="normal" fill="#000" stroke="#000" stroke-width="0.16" >Cell</text>
<text x="70.75" y="295.60" font-size="4.8" text-anchor="middle" font-weight="normal" fill="#000" stroke="#000" stroke-width="0.16" >Medium</text>
<line x1="17.10" y1="297.20" x2="49.90" y2="297.20" stroke="#222" stroke-width="0.55"/>
<line x1="17.10" y1="297.20" x2="17.10" y2="298.70" stroke="#222" stroke-width="0.5"/>
<line x1="49.90" y1="297.20" x2="49.90" y2="298.70" stroke="#222" stroke-width="0.5"/>
<line x1="55.40" y1="297.20" x2="88.10" y2="297.20" stroke="#222" stroke-width="0.55"/>
<line x1="55.40" y1="297.20" x2="55.40" y2="298.70" stroke="#222" stroke-width="0.5"/>
<line x1="88.10" y1="297.20" x2="88.10" y2="298.70" stroke="#222" stroke-width="0.5"/>
<text x="10.00" y="310.70" font-size="4.9" text-anchor="end" font-weight="normal" fill="#000" stroke="#000" stroke-width="0.3" >205</text>
<line x1="10.20" y1="309.00" x2="12.80" y2="309.00" stroke="#222" stroke-width="0.7"/>
<text x="10.00" y="323.30" font-size="4.9" text-anchor="end" font-weight="normal" fill="#000" stroke="#000" stroke-width="0.3" >130</text>
<line x1="10.20" y1="321.60" x2="12.80" y2="321.60" stroke="#222" stroke-width="0.7"/>
<text x="10.00" y="335.50" font-size="4.9" text-anchor="end" font-weight="normal" fill="#000" stroke="#000" stroke-width="0.3" >77</text>
<line x1="10.20" y1="333.80" x2="12.80" y2="333.80" stroke="#222" stroke-width="0.7"/>
<text x="10.00" y="361.70" font-size="4.9" text-anchor="end" font-weight="normal" fill="#000" stroke="#000" stroke-width="0.3" >41</text>
<line x1="10.20" y1="360.00" x2="12.80" y2="360.00" stroke="#222" stroke-width="0.7"/>
<text x="0.00" y="0.00" font-size="10.3" text-anchor="middle" font-weight="normal" fill="#000" stroke="#000" stroke-width="0.34" transform="translate(50.1,375.6) scale(1.0,1)">T57S</text>
<g>
<rect x="137.4" y="307" width="75.20" height="60.10" fill="#d7d7d7"/>
<rect x="140.20" y="307.50" width="5" height="59.10" fill="#707070" opacity="0.26" filter="url(#b1)"/>
<rect x="147.20" y="307.50" width="5" height="59.10" fill="#707070" opacity="0.26" filter="url(#b1)"/>
<rect x="154.80" y="307.50" width="5" height="59.10" fill="#707070" opacity="0.26" filter="url(#b1)"/>
<rect x="162.30" y="307.50" width="5" height="59.10" fill="#707070" opacity="0.26" filter="url(#b1)"/>
<rect x="169.90" y="307.50" width="5" height="59.10" fill="#707070" opacity="0.10" filter="url(#b1)"/>
<rect x="177.50" y="307.50" width="6" height="59.10" fill="#888" opacity="0.1" filter="url(#b1)"/>
<rect x="184.50" y="307.50" width="6" height="59.10" fill="#888" opacity="0.1" filter="url(#b1)"/>
<rect x="191.80" y="307.50" width="6" height="59.10" fill="#888" opacity="0.1" filter="url(#b1)"/>
<rect x="198.90" y="307.50" width="6" height="59.10" fill="#888" opacity="0.1" filter="url(#b1)"/>
<rect x="206.40" y="307.50" width="6" height="59.10" fill="#888" opacity="0.1" filter="url(#b1)"/>
<mask id="mk6" maskUnits="userSpaceOnUse" x="137.4" y="307" width="75.20" height="60.10"><rect x="137.4" y="307" width="37.05" height="60.10" fill="#fff"/><rect x="174.45" y="307" width="4" height="60.10" fill="url(#fade)"/></mask>
<g mask="url(#mk6)" opacity="0.57"><rect x="137.4" y="307" width="75.20" height="60.10" filter="url(#nD6)"/></g>
<rect x="137.4" y="307" width="75.20" height="60.10" filter="url(#nA6)"/>
<ellipse cx="142.70" cy="333.90" rx="3.5" ry="2.20" fill="#000" opacity="1.00" filter="url(#b2)"/>
<ellipse cx="149.70" cy="333.90" rx="3.5" ry="2.20" fill="#000" opacity="1.00" filter="url(#b2)"/>
<ellipse cx="157.30" cy="333.90" rx="3.5" ry="2.16" fill="#000" opacity="1.00" filter="url(#b2)"/>
<ellipse cx="164.80" cy="333.90" rx="3.5" ry="2.02" fill="#000" opacity="0.84" filter="url(#b2)"/>
<ellipse cx="172.40" cy="333.90" rx="3.5" ry="1.75" fill="#000" opacity="0.53" filter="url(#b2)"/>
<ellipse cx="187.50" cy="331.60" rx="3.2" ry="2.06" fill="#000" opacity="0.68" filter="url(#b2)"/>
<ellipse cx="194.80" cy="331.60" rx="3.2" ry="2.20" fill="#000" opacity="0.89" filter="url(#b2)"/>
<ellipse cx="201.90" cy="331.60" rx="3.2" ry="2.27" fill="#000" opacity="1.00" filter="url(#b2)"/>
<ellipse cx="209.40" cy="331.60" rx="3.2" ry="2.27" fill="#000" opacity="1.00" filter="url(#b2)"/>
</g>
<text x="142.70" y="304.50" font-size="4.8" text-anchor="middle" font-weight="normal" fill="#000" stroke="#000" stroke-width="0.16" >0</text>
<text x="149.70" y="304.50" font-size="4.8" text-anchor="middle" font-weight="normal" fill="#000" stroke="#000" stroke-width="0.16" >2</text>
<text x="157.30" y="304.50" font-size="4.8" text-anchor="middle" font-weight="normal" fill="#000" stroke="#000" stroke-width="0.16" >4</text>
<text x="164.80" y="304.50" font-size="4.8" text-anchor="middle" font-weight="normal" fill="#000" stroke="#000" stroke-width="0.16" >8</text>
<text x="172.40" y="304.50" font-size="4.8" text-anchor="middle" font-weight="normal" fill="#000" stroke="#000" stroke-width="0.16" >24</text>
<text x="180.50" y="304.50" font-size="4.8" text-anchor="middle" font-weight="normal" fill="#000" stroke="#000" stroke-width="0.16" >0</text>
<text x="187.50" y="304.50" font-size="4.8" text-anchor="middle" font-weight="normal" fill="#000" stroke="#000" stroke-width="0.16" >2</text>
<text x="194.80" y="304.50" font-size="4.8" text-anchor="middle" font-weight="normal" fill="#000" stroke="#000" stroke-width="0.16" >4</text>
<text x="201.90" y="304.50" font-size="4.8" text-anchor="middle" font-weight="normal" fill="#000" stroke="#000" stroke-width="0.16" >8</text>
<text x="209.40" y="304.50" font-size="4.8" text-anchor="middle" font-weight="normal" fill="#000" stroke="#000" stroke-width="0.16" >24</text>
<text x="124.00" y="304.80" font-size="4.5" text-anchor="start" font-weight="normal" fill="#000" stroke="#000" stroke-width="0.16" >(KD)</text>
<text x="213.50" y="304.50" font-size="4.6" text-anchor="start" font-weight="normal" fill="#000" stroke="#000" stroke-width="0.16" >(hrs)</text>
<text x="157.55" y="296.30" font-size="4.8" text-anchor="middle" font-weight="normal" fill="#000" stroke="#000" stroke-width="0.16" >Cell</text>
<text x="194.95" y="296.30" font-size="4.8" text-anchor="middle" font-weight="normal" fill="#000" stroke="#000" stroke-width="0.16" >Medium</text>
<line x1="142.20" y1="297.90" x2="174.90" y2="297.90" stroke="#222" stroke-width="0.55"/>
<line x1="142.20" y1="297.90" x2="142.20" y2="299.40" stroke="#222" stroke-width="0.5"/>
<line x1="174.90" y1="297.90" x2="174.90" y2="299.40" stroke="#222" stroke-width="0.5"/>
<line x1="180.00" y1="297.90" x2="211.90" y2="297.90" stroke="#222" stroke-width="0.55"/>
<line x1="180.00" y1="297.90" x2="180.00" y2="299.40" stroke="#222" stroke-width="0.5"/>
<line x1="211.90" y1="297.90" x2="211.90" y2="299.40" stroke="#222" stroke-width="0.5"/>
<text x="134.40" y="312.20" font-size="4.9" text-anchor="end" font-weight="normal" fill="#000" stroke="#000" stroke-width="0.3" >205</text>
<line x1="134.60" y1="310.50" x2="137.20" y2="310.50" stroke="#222" stroke-width="0.7"/>
<text x="134.40" y="324.00" font-size="4.9" text-anchor="end" font-weight="normal" fill="#000" stroke="#000" stroke-width="0.3" >130</text>
<line x1="134.60" y1="322.30" x2="137.20" y2="322.30" stroke="#222" stroke-width="0.7"/>
<text x="134.40" y="336.60" font-size="4.9" text-anchor="end" font-weight="normal" fill="#000" stroke="#000" stroke-width="0.3" >77</text>
<line x1="134.60" y1="334.90" x2="137.20" y2="334.90" stroke="#222" stroke-width="0.7"/>
<text x="134.40" y="366.30" font-size="4.9" text-anchor="end" font-weight="normal" fill="#000" stroke="#000" stroke-width="0.3" >43</text>
<line x1="134.60" y1="364.60" x2="137.20" y2="364.60" stroke="#222" stroke-width="0.7"/>
<text x="0.00" y="0.00" font-size="10.3" text-anchor="middle" font-weight="normal" fill="#000" stroke="#000" stroke-width="0.34" transform="translate(175,376.5) scale(1.0,1)">I518M</text>
<line x1="414.00" y1="8.90" x2="495.40" y2="8.90" stroke="#555" stroke-width="0.55"/>
<line x1="495.40" y1="8.90" x2="495.40" y2="74.10" stroke="#555" stroke-width="0.55"/>
<line x1="414.00" y1="8.60" x2="414.00" y2="74.40" stroke="#111" stroke-width="0.75"/>
<line x1="413.70" y1="74.10" x2="495.70" y2="74.10" stroke="#111" stroke-width="0.75"/>
<line x1="414.00" y1="74.10" x2="415.60" y2="74.10" stroke="#222" stroke-width="0.5"/>
<line x1="493.80" y1="74.10" x2="495.40" y2="74.10" stroke="#222" stroke-width="0.5"/>
<text x="412.00" y="75.80" font-size="4.5" text-anchor="end" font-weight="normal" fill="#000" stroke="#000" stroke-width="0.16" >0</text>
<line x1="414.00" y1="63.20" x2="415.60" y2="63.20" stroke="#222" stroke-width="0.5"/>
<line x1="493.80" y1="63.20" x2="495.40" y2="63.20" stroke="#222" stroke-width="0.5"/>
<text x="412.00" y="64.90" font-size="4.5" text-anchor="end" font-weight="normal" fill="#000" stroke="#000" stroke-width="0.16" >20</text>
<line x1="414.00" y1="52.30" x2="415.60" y2="52.30" stroke="#222" stroke-width="0.5"/>
<line x1="493.80" y1="52.30" x2="495.40" y2="52.30" stroke="#222" stroke-width="0.5"/>
<text x="412.00" y="54.00" font-size="4.5" text-anchor="end" font-weight="normal" fill="#000" stroke="#000" stroke-width="0.16" >40</text>
<line x1="414.00" y1="41.40" x2="415.60" y2="41.40" stroke="#222" stroke-width="0.5"/>
<line x1="493.80" y1="41.40" x2="495.40" y2="41.40" stroke="#222" stroke-width="0.5"/>
<text x="412.00" y="43.10" font-size="4.5" text-anchor="end" font-weight="normal" fill="#000" stroke="#000" stroke-width="0.16" >60</text>
<line x1="414.00" y1="30.50" x2="415.60" y2="30.50" stroke="#222" stroke-width="0.5"/>
<line x1="493.80" y1="30.50" x2="495.40" y2="30.50" stroke="#222" stroke-width="0.5"/>
<text x="412.00" y="32.20" font-size="4.5" text-anchor="end" font-weight="normal" fill="#000" stroke="#000" stroke-width="0.16" >80</text>
<line x1="414.00" y1="19.60" x2="415.60" y2="19.60" stroke="#222" stroke-width="0.5"/>
<line x1="493.80" y1="19.60" x2="495.40" y2="19.60" stroke="#222" stroke-width="0.5"/>
<text x="412.00" y="21.30" font-size="4.5" text-anchor="end" font-weight="normal" fill="#000" stroke="#000" stroke-width="0.16" >100</text>
<line x1="414.00" y1="74.10" x2="414.00" y2="72.50" stroke="#222" stroke-width="0.5"/>
<line x1="414.00" y1="8.90" x2="414.00" y2="10.50" stroke="#222" stroke-width="0.5"/>
<text x="414.00" y="80.30" font-size="4.8" text-anchor="middle" font-weight="normal" fill="#000" stroke="#000" stroke-width="0.16" >0</text>
<line x1="420.54" y1="74.10" x2="420.54" y2="72.50" stroke="#222" stroke-width="0.5"/>
<line x1="420.54" y1="8.90" x2="420.54" y2="10.50" stroke="#222" stroke-width="0.5"/>
<text x="420.54" y="80.30" font-size="4.8" text-anchor="middle" font-weight="normal" fill="#000" stroke="#000" stroke-width="0.16" >2</text>
<line x1="430.35" y1="74.10" x2="430.35" y2="72.50" stroke="#222" stroke-width="0.5"/>
<line x1="430.35" y1="8.90" x2="430.35" y2="10.50" stroke="#222" stroke-width="0.5"/>
<text x="430.35" y="80.30" font-size="4.8" text-anchor="middle" font-weight="normal" fill="#000" stroke="#000" stroke-width="0.16" >5</text>
<line x1="440.17" y1="74.10" x2="440.17" y2="72.50" stroke="#222" stroke-width="0.5"/>
<line x1="440.17" y1="8.90" x2="440.17" y2="10.50" stroke="#222" stroke-width="0.5"/>
<text x="440.17" y="80.30" font-size="4.8" text-anchor="middle" font-weight="normal" fill="#000" stroke="#000" stroke-width="0.16" >8</text>
<line x1="492.50" y1="74.10" x2="492.50" y2="72.50" stroke="#222" stroke-width="0.5"/>
<line x1="492.50" y1="8.90" x2="492.50" y2="10.50" stroke="#222" stroke-width="0.5"/>
<text x="492.50" y="80.30" font-size="4.8" text-anchor="middle" font-weight="normal" fill="#000" stroke="#000" stroke-width="0.16" >24</text>
<text x="411.80" y="12.00" font-size="4.2" text-anchor="end" font-weight="normal" fill="#000" stroke="#000" stroke-width="0.16" >(%)</text>
<text x="495.30" y="80.10" font-size="4.6" text-anchor="start" font-weight="normal" fill="#000" stroke="#000" stroke-width="0.16" >(hrs)</text>
<polyline fill="none" stroke="#111" stroke-width="1.05" points="414.00,19.60 420.54,25.05 430.35,32.68 440.17,35.95 492.50,35.95"/>
<line x1="420.54" y1="25.05" x2="420.54" y2="23.42" stroke="#000" stroke-width="0.8"/>
<line x1="419.64" y1="23.42" x2="421.44" y2="23.42" stroke="#000" stroke-width="0.6"/>
<line x1="430.35" y1="32.68" x2="430.35" y2="31.05" stroke="#000" stroke-width="0.8"/>
<line x1="429.45" y1="31.05" x2="431.25" y2="31.05" stroke="#000" stroke-width="0.6"/>
<line x1="440.17" y1="35.95" x2="440.17" y2="32.68" stroke="#000" stroke-width="0.8"/>
<line x1="439.27" y1="32.68" x2="441.07" y2="32.68" stroke="#000" stroke-width="0.6"/>
<line x1="492.50" y1="35.95" x2="492.50" y2="29.41" stroke="#000" stroke-width="0.8"/>
<line x1="491.60" y1="29.41" x2="493.40" y2="29.41" stroke="#000" stroke-width="0.6"/>
<path d="M414.00,17.90 L415.60,20.80 L412.40,20.80 Z" fill="#111"/>
<path d="M420.54,23.35 L422.14,26.25 L418.94,26.25 Z" fill="#111"/>
<path d="M430.35,30.98 L431.95,33.88 L428.75,33.88 Z" fill="#111"/>
<path d="M440.17,34.25 L441.77,37.15 L438.57,37.15 Z" fill="#111"/>
<path d="M492.50,34.25 L494.10,37.15 L490.90,37.15 Z" fill="#111"/>
<polyline fill="none" stroke="#111" stroke-width="1.05" points="414.00,74.10 420.54,55.02 430.35,46.30 440.17,46.30 492.50,39.22"/>
<line x1="420.54" y1="53.39" x2="420.54" y2="56.66" stroke="#000" stroke-width="0.8"/>
<line x1="430.35" y1="44.67" x2="430.35" y2="47.94" stroke="#000" stroke-width="0.8"/>
<line x1="440.17" y1="43.03" x2="440.17" y2="49.58" stroke="#000" stroke-width="0.8"/>
<line x1="492.50" y1="32.68" x2="492.50" y2="45.76" stroke="#000" stroke-width="0.8"/>
<rect x="412.75" y="72.85" width="2.5" height="2.5" fill="#333" stroke="#000" stroke-width="0.5"/>
<rect x="419.29" y="53.77" width="2.5" height="2.5" fill="#333" stroke="#000" stroke-width="0.5"/>
<rect x="429.10" y="45.05" width="2.5" height="2.5" fill="#333" stroke="#000" stroke-width="0.5"/>
<rect x="438.92" y="45.05" width="2.5" height="2.5" fill="#333" stroke="#000" stroke-width="0.5"/>
<rect x="491.25" y="37.97" width="2.5" height="2.5" fill="#333" stroke="#000" stroke-width="0.5"/>
<polyline fill="none" stroke="#111" stroke-width="1.05" points="414.00,19.60 420.54,44.12 430.35,60.47 440.17,63.20 492.50,69.74"/>
<line x1="420.54" y1="44.12" x2="420.54" y2="45.76" stroke="#000" stroke-width="0.8"/>
<line x1="419.64" y1="45.76" x2="421.44" y2="45.76" stroke="#000" stroke-width="0.6"/>
<line x1="430.35" y1="60.47" x2="430.35" y2="62.65" stroke="#000" stroke-width="0.8"/>
<line x1="429.45" y1="62.65" x2="431.25" y2="62.65" stroke="#000" stroke-width="0.6"/>
<line x1="440.17" y1="63.20" x2="440.17" y2="64.29" stroke="#000" stroke-width="0.8"/>
<line x1="439.27" y1="64.29" x2="441.07" y2="64.29" stroke="#000" stroke-width="0.6"/>
<line x1="492.50" y1="69.74" x2="492.50" y2="70.83" stroke="#000" stroke-width="0.8"/>
<line x1="491.60" y1="70.83" x2="493.40" y2="70.83" stroke="#000" stroke-width="0.6"/>
<circle cx="414.00" cy="19.60" r="1.4" fill="#333" stroke="#000" stroke-width="0.6"/>
<circle cx="420.54" cy="44.12" r="1.4" fill="#333" stroke="#000" stroke-width="0.6"/>
<circle cx="430.35" cy="60.47" r="1.4" fill="#333" stroke="#000" stroke-width="0.6"/>
<circle cx="440.17" cy="63.20" r="1.4" fill="#333" stroke="#000" stroke-width="0.6"/>
<circle cx="492.50" cy="69.74" r="1.4" fill="#333" stroke="#000" stroke-width="0.6"/>
<text x="467.00" y="34.20" font-size="4.8" text-anchor="middle" font-weight="normal" fill="#000" stroke="#000" stroke-width="0.16" >total</text>
<text x="468.00" y="65.70" font-size="4.8" text-anchor="middle" font-weight="normal" fill="#000" stroke="#000" stroke-width="0.16" >cell</text>
<text x="467.00" y="46.80" font-size="4.8" text-anchor="middle" font-weight="normal" fill="#000" stroke="#000" stroke-width="0.16" >medium</text>
<text x="0.00" y="0.00" font-size="10.3" text-anchor="end" font-weight="normal" fill="#000" stroke="#000" stroke-width="0.34" transform="translate(494.4,18.8) scale(1.0,1)">Wild type</text>
<line x1="284.00" y1="106.50" x2="365.80" y2="106.50" stroke="#555" stroke-width="0.55"/>
<line x1="365.80" y1="106.50" x2="365.80" y2="171.80" stroke="#555" stroke-width="0.55"/>
<line x1="284.00" y1="106.20" x2="284.00" y2="172.10" stroke="#111" stroke-width="0.75"/>
<line x1="283.70" y1="171.80" x2="366.10" y2="171.80" stroke="#111" stroke-width="0.75"/>
<line x1="284.00" y1="171.80" x2="285.60" y2="171.80" stroke="#222" stroke-width="0.5"/>
<line x1="364.20" y1="171.80" x2="365.80" y2="171.80" stroke="#222" stroke-width="0.5"/>
<text x="282.00" y="173.50" font-size="4.5" text-anchor="end" font-weight="normal" fill="#000" stroke="#000" stroke-width="0.16" >0</text>
<line x1="284.00" y1="160.88" x2="285.60" y2="160.88" stroke="#222" stroke-width="0.5"/>
<line x1="364.20" y1="160.88" x2="365.80" y2="160.88" stroke="#222" stroke-width="0.5"/>
<text x="282.00" y="162.58" font-size="4.5" text-anchor="end" font-weight="normal" fill="#000" stroke="#000" stroke-width="0.16" >20</text>
<line x1="284.00" y1="149.96" x2="285.60" y2="149.96" stroke="#222" stroke-width="0.5"/>
<line x1="364.20" y1="149.96" x2="365.80" y2="149.96" stroke="#222" stroke-width="0.5"/>
<text x="282.00" y="151.66" font-size="4.5" text-anchor="end" font-weight="normal" fill="#000" stroke="#000" stroke-width="0.16" >40</text>
<line x1="284.00" y1="139.04" x2="285.60" y2="139.04" stroke="#222" stroke-width="0.5"/>
<line x1="364.20" y1="139.04" x2="365.80" y2="139.04" stroke="#222" stroke-width="0.5"/>
<text x="282.00" y="140.74" font-size="4.5" text-anchor="end" font-weight="normal" fill="#000" stroke="#000" stroke-width="0.16" >60</text>
<line x1="284.00" y1="128.12" x2="285.60" y2="128.12" stroke="#222" stroke-width="0.5"/>
<line x1="364.20" y1="128.12" x2="365.80" y2="128.12" stroke="#222" stroke-width="0.5"/>
<text x="282.00" y="129.82" font-size="4.5" text-anchor="end" font-weight="normal" fill="#000" stroke="#000" stroke-width="0.16" >80</text>
<line x1="284.00" y1="117.20" x2="285.60" y2="117.20" stroke="#222" stroke-width="0.5"/>
<line x1="364.20" y1="117.20" x2="365.80" y2="117.20" stroke="#222" stroke-width="0.5"/>
<text x="282.00" y="118.90" font-size="4.5" text-anchor="end" font-weight="normal" fill="#000" stroke="#000" stroke-width="0.16" >100</text>
<line x1="284.00" y1="171.80" x2="284.00" y2="170.20" stroke="#222" stroke-width="0.5"/>
<line x1="284.00" y1="106.50" x2="284.00" y2="108.10" stroke="#222" stroke-width="0.5"/>
<text x="284.00" y="178.00" font-size="4.8" text-anchor="middle" font-weight="normal" fill="#000" stroke="#000" stroke-width="0.16" >0</text>
<line x1="290.50" y1="171.80" x2="290.50" y2="170.20" stroke="#222" stroke-width="0.5"/>
<line x1="290.50" y1="106.50" x2="290.50" y2="108.10" stroke="#222" stroke-width="0.5"/>
<text x="290.50" y="178.00" font-size="4.8" text-anchor="middle" font-weight="normal" fill="#000" stroke="#000" stroke-width="0.16" >2</text>
<line x1="297.00" y1="171.80" x2="297.00" y2="170.20" stroke="#222" stroke-width="0.5"/>
<line x1="297.00" y1="106.50" x2="297.00" y2="108.10" stroke="#222" stroke-width="0.5"/>
<text x="297.00" y="178.00" font-size="4.8" text-anchor="middle" font-weight="normal" fill="#000" stroke="#000" stroke-width="0.16" >4</text>
<line x1="310.00" y1="171.80" x2="310.00" y2="170.20" stroke="#222" stroke-width="0.5"/>
<line x1="310.00" y1="106.50" x2="310.00" y2="108.10" stroke="#222" stroke-width="0.5"/>
<text x="310.00" y="178.00" font-size="4.8" text-anchor="middle" font-weight="normal" fill="#000" stroke="#000" stroke-width="0.16" >8</text>
<line x1="362.00" y1="171.80" x2="362.00" y2="170.20" stroke="#222" stroke-width="0.5"/>
<line x1="362.00" y1="106.50" x2="362.00" y2="108.10" stroke="#222" stroke-width="0.5"/>
<text x="362.00" y="178.00" font-size="4.8" text-anchor="middle" font-weight="normal" fill="#000" stroke="#000" stroke-width="0.16" >24</text>
<text x="281.80" y="109.60" font-size="4.2" text-anchor="end" font-weight="normal" fill="#000" stroke="#000" stroke-width="0.16" >(%)</text>
<text x="366.60" y="177.80" font-size="4.6" text-anchor="start" font-weight="normal" fill="#000" stroke="#000" stroke-width="0.16" >(hrs)</text>
<polyline fill="none" stroke="#111" stroke-width="1.05" points="284.00,117.20 290.50,134.67 297.00,135.76 310.00,146.14 362.00,155.97"/>
<line x1="290.50" y1="134.67" x2="290.50" y2="131.40" stroke="#000" stroke-width="0.8"/>
<line x1="289.60" y1="131.40" x2="291.40" y2="131.40" stroke="#000" stroke-width="0.6"/>
<line x1="297.00" y1="135.76" x2="297.00" y2="127.03" stroke="#000" stroke-width="0.8"/>
<line x1="296.10" y1="127.03" x2="297.90" y2="127.03" stroke="#000" stroke-width="0.6"/>
<line x1="310.00" y1="146.14" x2="310.00" y2="145.05" stroke="#000" stroke-width="0.8"/>
<line x1="309.10" y1="145.05" x2="310.90" y2="145.05" stroke="#000" stroke-width="0.6"/>
<line x1="362.00" y1="155.97" x2="362.00" y2="154.87" stroke="#000" stroke-width="0.8"/>
<line x1="361.10" y1="154.87" x2="362.90" y2="154.87" stroke="#000" stroke-width="0.6"/>
<path d="M284.00,115.50 L285.60,118.40 L282.40,118.40 Z" fill="#111"/>
<path d="M290.50,132.97 L292.10,135.87 L288.90,135.87 Z" fill="#111"/>
<path d="M297.00,134.06 L298.60,136.96 L295.40,136.96 Z" fill="#111"/>
<path d="M310.00,144.44 L311.60,147.34 L308.40,147.34 Z" fill="#111"/>
<path d="M362.00,154.27 L363.60,157.17 L360.40,157.17 Z" fill="#111"/>
<polyline fill="none" stroke="#111" stroke-width="1.05" points="284.00,170.71 290.50,168.52 297.00,166.34 310.00,165.79 362.00,163.06"/>
<line x1="290.50" y1="167.98" x2="290.50" y2="169.07" stroke="#000" stroke-width="0.8"/>
<line x1="297.00" y1="164.16" x2="297.00" y2="168.52" stroke="#000" stroke-width="0.8"/>
<line x1="310.00" y1="165.25" x2="310.00" y2="166.34" stroke="#000" stroke-width="0.8"/>
<line x1="362.00" y1="161.97" x2="362.00" y2="164.16" stroke="#000" stroke-width="0.8"/>
<rect x="282.75" y="169.46" width="2.5" height="2.5" fill="#333" stroke="#000" stroke-width="0.5"/>
<rect x="289.25" y="167.27" width="2.5" height="2.5" fill="#333" stroke="#000" stroke-width="0.5"/>
<rect x="295.75" y="165.09" width="2.5" height="2.5" fill="#333" stroke="#000" stroke-width="0.5"/>
<rect x="308.75" y="164.54" width="2.5" height="2.5" fill="#333" stroke="#000" stroke-width="0.5"/>
<rect x="360.75" y="161.81" width="2.5" height="2.5" fill="#333" stroke="#000" stroke-width="0.5"/>
<polyline fill="none" stroke="#111" stroke-width="1.05" points="284.00,117.20 290.50,137.40 297.00,141.22 310.00,151.60 362.00,164.70"/>
<line x1="290.50" y1="137.40" x2="290.50" y2="141.77" stroke="#000" stroke-width="0.8"/>
<line x1="289.60" y1="141.77" x2="291.40" y2="141.77" stroke="#000" stroke-width="0.6"/>
<line x1="297.00" y1="141.22" x2="297.00" y2="146.68" stroke="#000" stroke-width="0.8"/>
<line x1="296.10" y1="146.68" x2="297.90" y2="146.68" stroke="#000" stroke-width="0.6"/>
<line x1="310.00" y1="151.60" x2="310.00" y2="153.24" stroke="#000" stroke-width="0.8"/>
<line x1="309.10" y1="153.24" x2="310.90" y2="153.24" stroke="#000" stroke-width="0.6"/>
<line x1="362.00" y1="164.70" x2="362.00" y2="166.34" stroke="#000" stroke-width="0.8"/>
<line x1="361.10" y1="166.34" x2="362.90" y2="166.34" stroke="#000" stroke-width="0.6"/>
<circle cx="284.00" cy="117.20" r="1.4" fill="#333" stroke="#000" stroke-width="0.6"/>
<circle cx="290.50" cy="137.40" r="1.4" fill="#333" stroke="#000" stroke-width="0.6"/>
<circle cx="297.00" cy="141.22" r="1.4" fill="#333" stroke="#000" stroke-width="0.6"/>
<circle cx="310.00" cy="151.60" r="1.4" fill="#333" stroke="#000" stroke-width="0.6"/>
<circle cx="362.00" cy="164.70" r="1.4" fill="#333" stroke="#000" stroke-width="0.6"/>
<text x="332.00" y="148.70" font-size="4.8" text-anchor="middle" font-weight="normal" fill="#000" stroke="#000" stroke-width="0.16" >total</text>
<text x="322.30" y="160.30" font-size="4.8" text-anchor="middle" font-weight="normal" fill="#000" stroke="#000" stroke-width="0.16" >cell</text>
<text x="338.50" y="168.80" font-size="4.8" text-anchor="middle" font-weight="normal" fill="#000" stroke="#000" stroke-width="0.16" >medium</text>
<text x="0.00" y="0.00" font-size="10.3" text-anchor="end" font-weight="normal" fill="#000" stroke="#000" stroke-width="0.34" transform="translate(364.3,115.5) scale(1.0,1)">G441C</text>
<text x="367.10" y="165.10" font-size="4.8" text-anchor="start" font-weight="normal" fill="#000" stroke="#000" stroke-width="0.16" >p = 0.0011</text>
<line x1="414.00" y1="106.40" x2="495.50" y2="106.40" stroke="#555" stroke-width="0.55"/>
<line x1="495.50" y1="106.40" x2="495.50" y2="171.60" stroke="#555" stroke-width="0.55"/>
<line x1="414.00" y1="106.10" x2="414.00" y2="171.90" stroke="#111" stroke-width="0.75"/>
<line x1="413.70" y1="171.60" x2="495.80" y2="171.60" stroke="#111" stroke-width="0.75"/>
<line x1="414.00" y1="171.60" x2="415.60" y2="171.60" stroke="#222" stroke-width="0.5"/>
<line x1="493.90" y1="171.60" x2="495.50" y2="171.60" stroke="#222" stroke-width="0.5"/>
<text x="412.00" y="173.30" font-size="4.5" text-anchor="end" font-weight="normal" fill="#000" stroke="#000" stroke-width="0.16" >0</text>
<line x1="414.00" y1="160.82" x2="415.60" y2="160.82" stroke="#222" stroke-width="0.5"/>
<line x1="493.90" y1="160.82" x2="495.50" y2="160.82" stroke="#222" stroke-width="0.5"/>
<text x="412.00" y="162.52" font-size="4.5" text-anchor="end" font-weight="normal" fill="#000" stroke="#000" stroke-width="0.16" >20</text>
<line x1="414.00" y1="150.04" x2="415.60" y2="150.04" stroke="#222" stroke-width="0.5"/>
<line x1="493.90" y1="150.04" x2="495.50" y2="150.04" stroke="#222" stroke-width="0.5"/>
<text x="412.00" y="151.74" font-size="4.5" text-anchor="end" font-weight="normal" fill="#000" stroke="#000" stroke-width="0.16" >40</text>
<line x1="414.00" y1="139.26" x2="415.60" y2="139.26" stroke="#222" stroke-width="0.5"/>
<line x1="493.90" y1="139.26" x2="495.50" y2="139.26" stroke="#222" stroke-width="0.5"/>
<text x="412.00" y="140.96" font-size="4.5" text-anchor="end" font-weight="normal" fill="#000" stroke="#000" stroke-width="0.16" >60</text>
<line x1="414.00" y1="128.48" x2="415.60" y2="128.48" stroke="#222" stroke-width="0.5"/>
<line x1="493.90" y1="128.48" x2="495.50" y2="128.48" stroke="#222" stroke-width="0.5"/>
<text x="412.00" y="130.18" font-size="4.5" text-anchor="end" font-weight="normal" fill="#000" stroke="#000" stroke-width="0.16" >80</text>
<line x1="414.00" y1="117.70" x2="415.60" y2="117.70" stroke="#222" stroke-width="0.5"/>
<line x1="493.90" y1="117.70" x2="495.50" y2="117.70" stroke="#222" stroke-width="0.5"/>
<text x="412.00" y="119.40" font-size="4.5" text-anchor="end" font-weight="normal" fill="#000" stroke="#000" stroke-width="0.16" >100</text>
<line x1="414.00" y1="171.60" x2="414.00" y2="170.00" stroke="#222" stroke-width="0.5"/>
<line x1="414.00" y1="106.40" x2="414.00" y2="108.00" stroke="#222" stroke-width="0.5"/>
<text x="414.00" y="177.80" font-size="4.8" text-anchor="middle" font-weight="normal" fill="#000" stroke="#000" stroke-width="0.16" >0</text>
<line x1="420.50" y1="171.60" x2="420.50" y2="170.00" stroke="#222" stroke-width="0.5"/>
<line x1="420.50" y1="106.40" x2="420.50" y2="108.00" stroke="#222" stroke-width="0.5"/>
<text x="420.50" y="177.80" font-size="4.8" text-anchor="middle" font-weight="normal" fill="#000" stroke="#000" stroke-width="0.16" >2</text>
<line x1="427.00" y1="171.60" x2="427.00" y2="170.00" stroke="#222" stroke-width="0.5"/>
<line x1="427.00" y1="106.40" x2="427.00" y2="108.00" stroke="#222" stroke-width="0.5"/>
<text x="427.00" y="177.80" font-size="4.8" text-anchor="middle" font-weight="normal" fill="#000" stroke="#000" stroke-width="0.16" >4</text>
<line x1="440.00" y1="171.60" x2="440.00" y2="170.00" stroke="#222" stroke-width="0.5"/>
<line x1="440.00" y1="106.40" x2="440.00" y2="108.00" stroke="#222" stroke-width="0.5"/>
<text x="440.00" y="177.80" font-size="4.8" text-anchor="middle" font-weight="normal" fill="#000" stroke="#000" stroke-width="0.16" >8</text>
<line x1="492.00" y1="171.60" x2="492.00" y2="170.00" stroke="#222" stroke-width="0.5"/>
<line x1="492.00" y1="106.40" x2="492.00" y2="108.00" stroke="#222" stroke-width="0.5"/>
<text x="492.00" y="177.80" font-size="4.8" text-anchor="middle" font-weight="normal" fill="#000" stroke="#000" stroke-width="0.16" >24</text>
<text x="411.80" y="110.10" font-size="4.2" text-anchor="end" font-weight="normal" fill="#000" stroke="#000" stroke-width="0.16" >(%)</text>
<text x="498.60" y="177.60" font-size="4.6" text-anchor="start" font-weight="normal" fill="#000" stroke="#000" stroke-width="0.16" >(hrs)</text>
<polyline fill="none" stroke="#111" stroke-width="1.05" points="414.00,117.70 420.50,124.17 427.00,127.40 440.00,141.42 492.00,159.20"/>
<line x1="420.50" y1="124.17" x2="420.50" y2="113.39" stroke="#000" stroke-width="0.8"/>
<line x1="419.60" y1="113.39" x2="421.40" y2="113.39" stroke="#000" stroke-width="0.6"/>
<line x1="427.00" y1="127.40" x2="427.00" y2="118.24" stroke="#000" stroke-width="0.8"/>
<line x1="426.10" y1="118.24" x2="427.90" y2="118.24" stroke="#000" stroke-width="0.6"/>
<line x1="440.00" y1="141.42" x2="440.00" y2="136.03" stroke="#000" stroke-width="0.8"/>
<line x1="439.10" y1="136.03" x2="440.90" y2="136.03" stroke="#000" stroke-width="0.6"/>
<line x1="492.00" y1="159.20" x2="492.00" y2="154.89" stroke="#000" stroke-width="0.8"/>
<line x1="491.10" y1="154.89" x2="492.90" y2="154.89" stroke="#000" stroke-width="0.6"/>
<path d="M414.00,116.00 L415.60,118.90 L412.40,118.90 Z" fill="#111"/>
<path d="M420.50,122.47 L422.10,125.37 L418.90,125.37 Z" fill="#111"/>
<path d="M427.00,125.70 L428.60,128.60 L425.40,128.60 Z" fill="#111"/>
<path d="M440.00,139.72 L441.60,142.62 L438.40,142.62 Z" fill="#111"/>
<path d="M492.00,157.50 L493.60,160.40 L490.40,160.40 Z" fill="#111"/>
<polyline fill="none" stroke="#111" stroke-width="1.05" points="414.00,171.06 420.50,170.52 427.00,170.52 440.00,169.98 492.00,168.37"/>
<line x1="420.50" y1="169.98" x2="420.50" y2="171.06" stroke="#000" stroke-width="0.8"/>
<line x1="427.00" y1="169.98" x2="427.00" y2="171.06" stroke="#000" stroke-width="0.8"/>
<line x1="440.00" y1="169.44" x2="440.00" y2="170.52" stroke="#000" stroke-width="0.8"/>
<line x1="492.00" y1="167.83" x2="492.00" y2="168.90" stroke="#000" stroke-width="0.8"/>
<rect x="412.75" y="169.81" width="2.5" height="2.5" fill="#333" stroke="#000" stroke-width="0.5"/>
<rect x="419.25" y="169.27" width="2.5" height="2.5" fill="#333" stroke="#000" stroke-width="0.5"/>
<rect x="425.75" y="169.27" width="2.5" height="2.5" fill="#333" stroke="#000" stroke-width="0.5"/>
<rect x="438.75" y="168.73" width="2.5" height="2.5" fill="#333" stroke="#000" stroke-width="0.5"/>
<rect x="490.75" y="167.12" width="2.5" height="2.5" fill="#333" stroke="#000" stroke-width="0.5"/>
<polyline fill="none" stroke="#111" stroke-width="1.05" points="414.00,117.70 420.50,124.71 427.00,127.94 440.00,142.49 492.00,161.90"/>
<line x1="420.50" y1="124.71" x2="420.50" y2="135.49" stroke="#000" stroke-width="0.8"/>
<line x1="419.60" y1="135.49" x2="421.40" y2="135.49" stroke="#000" stroke-width="0.6"/>
<line x1="427.00" y1="127.94" x2="427.00" y2="137.10" stroke="#000" stroke-width="0.8"/>
<line x1="426.10" y1="137.10" x2="427.90" y2="137.10" stroke="#000" stroke-width="0.6"/>
<line x1="440.00" y1="142.49" x2="440.00" y2="147.88" stroke="#000" stroke-width="0.8"/>
<line x1="439.10" y1="147.88" x2="440.90" y2="147.88" stroke="#000" stroke-width="0.6"/>
<line x1="492.00" y1="161.90" x2="492.00" y2="166.21" stroke="#000" stroke-width="0.8"/>
<line x1="491.10" y1="166.21" x2="492.90" y2="166.21" stroke="#000" stroke-width="0.6"/>
<circle cx="414.00" cy="117.70" r="1.4" fill="#333" stroke="#000" stroke-width="0.6"/>
<circle cx="420.50" cy="124.71" r="1.4" fill="#333" stroke="#000" stroke-width="0.6"/>
<circle cx="427.00" cy="127.94" r="1.4" fill="#333" stroke="#000" stroke-width="0.6"/>
<circle cx="440.00" cy="142.49" r="1.4" fill="#333" stroke="#000" stroke-width="0.6"/>
<circle cx="492.00" cy="161.90" r="1.4" fill="#333" stroke="#000" stroke-width="0.6"/>
<text x="467.30" y="149.00" font-size="4.8" text-anchor="middle" font-weight="normal" fill="#000" stroke="#000" stroke-width="0.16" >total</text>
<text x="467.00" y="157.50" font-size="4.8" text-anchor="middle" font-weight="normal" fill="#000" stroke="#000" stroke-width="0.16" >cell</text>
<text x="467.80" y="168.10" font-size="4.8" text-anchor="middle" font-weight="normal" fill="#000" stroke="#000" stroke-width="0.16" >medium</text>
<text x="0.00" y="0.00" font-size="10.3" text-anchor="end" font-weight="normal" fill="#000" stroke="#000" stroke-width="0.34" transform="translate(494.4,116.1) scale(1.0,1)">Y444C</text>
<text x="496.80" y="170.10" font-size="4.8" text-anchor="start" font-weight="normal" fill="#000" stroke="#000" stroke-width="0.16" >p = 0.0005</text>
<line x1="284.00" y1="204.50" x2="365.40" y2="204.50" stroke="#555" stroke-width="0.55"/>
<line x1="365.40" y1="204.50" x2="365.40" y2="269.10" stroke="#555" stroke-width="0.55"/>
<line x1="284.00" y1="204.20" x2="284.00" y2="269.40" stroke="#111" stroke-width="0.75"/>
<line x1="283.70" y1="269.10" x2="365.70" y2="269.10" stroke="#111" stroke-width="0.75"/>
<line x1="284.00" y1="269.10" x2="285.60" y2="269.10" stroke="#222" stroke-width="0.5"/>
<line x1="363.80" y1="269.10" x2="365.40" y2="269.10" stroke="#222" stroke-width="0.5"/>
<text x="282.00" y="270.80" font-size="4.5" text-anchor="end" font-weight="normal" fill="#000" stroke="#000" stroke-width="0.16" >0</text>
<line x1="284.00" y1="258.22" x2="285.60" y2="258.22" stroke="#222" stroke-width="0.5"/>
<line x1="363.80" y1="258.22" x2="365.40" y2="258.22" stroke="#222" stroke-width="0.5"/>
<text x="282.00" y="259.92" font-size="4.5" text-anchor="end" font-weight="normal" fill="#000" stroke="#000" stroke-width="0.16" >20</text>
<line x1="284.00" y1="247.34" x2="285.60" y2="247.34" stroke="#222" stroke-width="0.5"/>
<line x1="363.80" y1="247.34" x2="365.40" y2="247.34" stroke="#222" stroke-width="0.5"/>
<text x="282.00" y="249.04" font-size="4.5" text-anchor="end" font-weight="normal" fill="#000" stroke="#000" stroke-width="0.16" >40</text>
<line x1="284.00" y1="236.46" x2="285.60" y2="236.46" stroke="#222" stroke-width="0.5"/>
<line x1="363.80" y1="236.46" x2="365.40" y2="236.46" stroke="#222" stroke-width="0.5"/>
<text x="282.00" y="238.16" font-size="4.5" text-anchor="end" font-weight="normal" fill="#000" stroke="#000" stroke-width="0.16" >60</text>
<line x1="284.00" y1="225.58" x2="285.60" y2="225.58" stroke="#222" stroke-width="0.5"/>
<line x1="363.80" y1="225.58" x2="365.40" y2="225.58" stroke="#222" stroke-width="0.5"/>
<text x="282.00" y="227.28" font-size="4.5" text-anchor="end" font-weight="normal" fill="#000" stroke="#000" stroke-width="0.16" >80</text>
<line x1="284.00" y1="214.70" x2="285.60" y2="214.70" stroke="#222" stroke-width="0.5"/>
<line x1="363.80" y1="214.70" x2="365.40" y2="214.70" stroke="#222" stroke-width="0.5"/>
<text x="282.00" y="216.40" font-size="4.5" text-anchor="end" font-weight="normal" fill="#000" stroke="#000" stroke-width="0.16" >100</text>
<line x1="284.00" y1="269.10" x2="284.00" y2="267.50" stroke="#222" stroke-width="0.5"/>
<line x1="284.00" y1="204.50" x2="284.00" y2="206.10" stroke="#222" stroke-width="0.5"/>
<text x="284.00" y="275.30" font-size="4.8" text-anchor="middle" font-weight="normal" fill="#000" stroke="#000" stroke-width="0.16" >0</text>
<line x1="290.50" y1="269.10" x2="290.50" y2="267.50" stroke="#222" stroke-width="0.5"/>
<line x1="290.50" y1="204.50" x2="290.50" y2="206.10" stroke="#222" stroke-width="0.5"/>
<text x="290.50" y="275.30" font-size="4.8" text-anchor="middle" font-weight="normal" fill="#000" stroke="#000" stroke-width="0.16" >2</text>
<line x1="297.00" y1="269.10" x2="297.00" y2="267.50" stroke="#222" stroke-width="0.5"/>
<line x1="297.00" y1="204.50" x2="297.00" y2="206.10" stroke="#222" stroke-width="0.5"/>
<text x="297.00" y="275.30" font-size="4.8" text-anchor="middle" font-weight="normal" fill="#000" stroke="#000" stroke-width="0.16" >4</text>
<line x1="310.00" y1="269.10" x2="310.00" y2="267.50" stroke="#222" stroke-width="0.5"/>
<line x1="310.00" y1="204.50" x2="310.00" y2="206.10" stroke="#222" stroke-width="0.5"/>
<text x="310.00" y="275.30" font-size="4.8" text-anchor="middle" font-weight="normal" fill="#000" stroke="#000" stroke-width="0.16" >8</text>
<line x1="362.00" y1="269.10" x2="362.00" y2="267.50" stroke="#222" stroke-width="0.5"/>
<line x1="362.00" y1="204.50" x2="362.00" y2="206.10" stroke="#222" stroke-width="0.5"/>
<text x="362.00" y="275.30" font-size="4.8" text-anchor="middle" font-weight="normal" fill="#000" stroke="#000" stroke-width="0.16" >24</text>
<text x="281.80" y="207.10" font-size="4.2" text-anchor="end" font-weight="normal" fill="#000" stroke="#000" stroke-width="0.16" >(%)</text>
<text x="366.60" y="275.10" font-size="4.6" text-anchor="start" font-weight="normal" fill="#000" stroke="#000" stroke-width="0.16" >(hrs)</text>
<polyline fill="none" stroke="#111" stroke-width="1.05" points="284.00,214.70 290.50,224.49 297.00,225.58 310.00,237.00 362.00,247.34"/>
<line x1="290.50" y1="224.49" x2="290.50" y2="220.14" stroke="#000" stroke-width="0.8"/>
<line x1="289.60" y1="220.14" x2="291.40" y2="220.14" stroke="#000" stroke-width="0.6"/>
<line x1="297.00" y1="225.58" x2="297.00" y2="214.70" stroke="#000" stroke-width="0.8"/>
<line x1="296.10" y1="214.70" x2="297.90" y2="214.70" stroke="#000" stroke-width="0.6"/>
<line x1="310.00" y1="237.00" x2="310.00" y2="229.93" stroke="#000" stroke-width="0.8"/>
<line x1="309.10" y1="229.93" x2="310.90" y2="229.93" stroke="#000" stroke-width="0.6"/>
<line x1="362.00" y1="247.34" x2="362.00" y2="243.53" stroke="#000" stroke-width="0.8"/>
<line x1="361.10" y1="243.53" x2="362.90" y2="243.53" stroke="#000" stroke-width="0.6"/>
<path d="M284.00,213.00 L285.60,215.90 L282.40,215.90 Z" fill="#111"/>
<path d="M290.50,222.79 L292.10,225.69 L288.90,225.69 Z" fill="#111"/>
<path d="M297.00,223.88 L298.60,226.78 L295.40,226.78 Z" fill="#111"/>
<path d="M310.00,235.30 L311.60,238.20 L308.40,238.20 Z" fill="#111"/>
<path d="M362.00,245.64 L363.60,248.54 L360.40,248.54 Z" fill="#111"/>
<polyline fill="none" stroke="#111" stroke-width="1.05" points="284.00,269.10 290.50,265.84 297.00,260.94 310.00,257.13 362.00,252.78"/>
<line x1="290.50" y1="265.29" x2="290.50" y2="266.38" stroke="#000" stroke-width="0.8"/>
<line x1="297.00" y1="259.85" x2="297.00" y2="262.03" stroke="#000" stroke-width="0.8"/>
<line x1="310.00" y1="254.41" x2="310.00" y2="259.85" stroke="#000" stroke-width="0.8"/>
<line x1="362.00" y1="249.52" x2="362.00" y2="256.04" stroke="#000" stroke-width="0.8"/>
<rect x="282.75" y="267.85" width="2.5" height="2.5" fill="#333" stroke="#000" stroke-width="0.5"/>
<rect x="289.25" y="264.59" width="2.5" height="2.5" fill="#333" stroke="#000" stroke-width="0.5"/>
<rect x="295.75" y="259.69" width="2.5" height="2.5" fill="#333" stroke="#000" stroke-width="0.5"/>
<rect x="308.75" y="255.88" width="2.5" height="2.5" fill="#333" stroke="#000" stroke-width="0.5"/>
<rect x="360.75" y="251.53" width="2.5" height="2.5" fill="#333" stroke="#000" stroke-width="0.5"/>
<polyline fill="none" stroke="#111" stroke-width="1.05" points="284.00,214.70 290.50,226.67 297.00,233.74 310.00,248.97 362.00,263.66"/>
<line x1="290.50" y1="226.67" x2="290.50" y2="231.02" stroke="#000" stroke-width="0.8"/>
<line x1="289.60" y1="231.02" x2="291.40" y2="231.02" stroke="#000" stroke-width="0.6"/>
<line x1="297.00" y1="233.74" x2="297.00" y2="243.53" stroke="#000" stroke-width="0.8"/>
<line x1="296.10" y1="243.53" x2="297.90" y2="243.53" stroke="#000" stroke-width="0.6"/>
<line x1="310.00" y1="248.97" x2="310.00" y2="257.13" stroke="#000" stroke-width="0.8"/>
<line x1="309.10" y1="257.13" x2="310.90" y2="257.13" stroke="#000" stroke-width="0.6"/>
<line x1="362.00" y1="263.66" x2="362.00" y2="264.75" stroke="#000" stroke-width="0.8"/>
<line x1="361.10" y1="264.75" x2="362.90" y2="264.75" stroke="#000" stroke-width="0.6"/>
<circle cx="284.00" cy="214.70" r="1.4" fill="#333" stroke="#000" stroke-width="0.6"/>
<circle cx="290.50" cy="226.67" r="1.4" fill="#333" stroke="#000" stroke-width="0.6"/>
<circle cx="297.00" cy="233.74" r="1.4" fill="#333" stroke="#000" stroke-width="0.6"/>
<circle cx="310.00" cy="248.97" r="1.4" fill="#333" stroke="#000" stroke-width="0.6"/>
<circle cx="362.00" cy="263.66" r="1.4" fill="#333" stroke="#000" stroke-width="0.6"/>
<text x="335.20" y="241.00" font-size="4.8" text-anchor="middle" font-weight="normal" fill="#000" stroke="#000" stroke-width="0.16" >total</text>
<text x="315.30" y="249.60" font-size="4.8" text-anchor="middle" font-weight="normal" fill="#000" stroke="#000" stroke-width="0.16" >cell</text>
<text x="320.70" y="260.50" font-size="4.8" text-anchor="middle" font-weight="normal" fill="#000" stroke="#000" stroke-width="0.16" >medium</text>
<text x="0.00" y="0.00" font-size="10.3" text-anchor="end" font-weight="normal" fill="#000" stroke="#000" stroke-width="0.34" transform="translate(364.3,213.3) scale(1.0,1)">R520G</text>
<text x="366.70" y="255.10" font-size="4.8" text-anchor="start" font-weight="normal" fill="#000" stroke="#000" stroke-width="0.16" >p = 0.0018</text>
<line x1="414.00" y1="204.70" x2="495.70" y2="204.70" stroke="#555" stroke-width="0.55"/>
<line x1="495.70" y1="204.70" x2="495.70" y2="269.70" stroke="#555" stroke-width="0.55"/>
<line x1="414.00" y1="204.40" x2="414.00" y2="270.00" stroke="#111" stroke-width="0.75"/>
<line x1="413.70" y1="269.70" x2="496.00" y2="269.70" stroke="#111" stroke-width="0.75"/>
<line x1="414.00" y1="269.70" x2="415.60" y2="269.70" stroke="#222" stroke-width="0.5"/>
<line x1="494.10" y1="269.70" x2="495.70" y2="269.70" stroke="#222" stroke-width="0.5"/>
<text x="412.00" y="271.40" font-size="4.5" text-anchor="end" font-weight="normal" fill="#000" stroke="#000" stroke-width="0.16" >0</text>
<line x1="414.00" y1="258.80" x2="415.60" y2="258.80" stroke="#222" stroke-width="0.5"/>
<line x1="494.10" y1="258.80" x2="495.70" y2="258.80" stroke="#222" stroke-width="0.5"/>
<text x="412.00" y="260.50" font-size="4.5" text-anchor="end" font-weight="normal" fill="#000" stroke="#000" stroke-width="0.16" >20</text>
<line x1="414.00" y1="247.90" x2="415.60" y2="247.90" stroke="#222" stroke-width="0.5"/>
<line x1="494.10" y1="247.90" x2="495.70" y2="247.90" stroke="#222" stroke-width="0.5"/>
<text x="412.00" y="249.60" font-size="4.5" text-anchor="end" font-weight="normal" fill="#000" stroke="#000" stroke-width="0.16" >40</text>
<line x1="414.00" y1="237.00" x2="415.60" y2="237.00" stroke="#222" stroke-width="0.5"/>
<line x1="494.10" y1="237.00" x2="495.70" y2="237.00" stroke="#222" stroke-width="0.5"/>
<text x="412.00" y="238.70" font-size="4.5" text-anchor="end" font-weight="normal" fill="#000" stroke="#000" stroke-width="0.16" >60</text>
<line x1="414.00" y1="226.10" x2="415.60" y2="226.10" stroke="#222" stroke-width="0.5"/>
<line x1="494.10" y1="226.10" x2="495.70" y2="226.10" stroke="#222" stroke-width="0.5"/>
<text x="412.00" y="227.80" font-size="4.5" text-anchor="end" font-weight="normal" fill="#000" stroke="#000" stroke-width="0.16" >80</text>
<line x1="414.00" y1="215.20" x2="415.60" y2="215.20" stroke="#222" stroke-width="0.5"/>
<line x1="494.10" y1="215.20" x2="495.70" y2="215.20" stroke="#222" stroke-width="0.5"/>
<text x="412.00" y="216.90" font-size="4.5" text-anchor="end" font-weight="normal" fill="#000" stroke="#000" stroke-width="0.16" >100</text>
<line x1="414.00" y1="269.70" x2="414.00" y2="268.10" stroke="#222" stroke-width="0.5"/>
<line x1="414.00" y1="204.70" x2="414.00" y2="206.30" stroke="#222" stroke-width="0.5"/>
<text x="414.00" y="275.90" font-size="4.8" text-anchor="middle" font-weight="normal" fill="#000" stroke="#000" stroke-width="0.16" >0</text>
<line x1="420.50" y1="269.70" x2="420.50" y2="268.10" stroke="#222" stroke-width="0.5"/>
<line x1="420.50" y1="204.70" x2="420.50" y2="206.30" stroke="#222" stroke-width="0.5"/>
<text x="420.50" y="275.90" font-size="4.8" text-anchor="middle" font-weight="normal" fill="#000" stroke="#000" stroke-width="0.16" >2</text>
<line x1="427.00" y1="269.70" x2="427.00" y2="268.10" stroke="#222" stroke-width="0.5"/>
<line x1="427.00" y1="204.70" x2="427.00" y2="206.30" stroke="#222" stroke-width="0.5"/>
<text x="427.00" y="275.90" font-size="4.8" text-anchor="middle" font-weight="normal" fill="#000" stroke="#000" stroke-width="0.16" >4</text>
<line x1="440.00" y1="269.70" x2="440.00" y2="268.10" stroke="#222" stroke-width="0.5"/>
<line x1="440.00" y1="204.70" x2="440.00" y2="206.30" stroke="#222" stroke-width="0.5"/>
<text x="440.00" y="275.90" font-size="4.8" text-anchor="middle" font-weight="normal" fill="#000" stroke="#000" stroke-width="0.16" >8</text>
<line x1="492.00" y1="269.70" x2="492.00" y2="268.10" stroke="#222" stroke-width="0.5"/>
<line x1="492.00" y1="204.70" x2="492.00" y2="206.30" stroke="#222" stroke-width="0.5"/>
<text x="492.00" y="275.90" font-size="4.8" text-anchor="middle" font-weight="normal" fill="#000" stroke="#000" stroke-width="0.16" >24</text>
<text x="411.80" y="207.60" font-size="4.2" text-anchor="end" font-weight="normal" fill="#000" stroke="#000" stroke-width="0.16" >(%)</text>
<text x="497.80" y="275.70" font-size="4.6" text-anchor="start" font-weight="normal" fill="#000" stroke="#000" stroke-width="0.16" >(hrs)</text>
<polyline fill="none" stroke="#111" stroke-width="1.05" points="414.00,215.20 420.50,232.64 427.00,233.73 440.00,241.36 492.00,251.71"/>
<line x1="420.50" y1="232.64" x2="420.50" y2="228.28" stroke="#000" stroke-width="0.8"/>
<line x1="419.60" y1="228.28" x2="421.40" y2="228.28" stroke="#000" stroke-width="0.6"/>
<line x1="427.00" y1="233.73" x2="427.00" y2="229.37" stroke="#000" stroke-width="0.8"/>
<line x1="426.10" y1="229.37" x2="427.90" y2="229.37" stroke="#000" stroke-width="0.6"/>
<line x1="440.00" y1="241.36" x2="440.00" y2="235.91" stroke="#000" stroke-width="0.8"/>
<line x1="439.10" y1="235.91" x2="440.90" y2="235.91" stroke="#000" stroke-width="0.6"/>
<line x1="492.00" y1="251.71" x2="492.00" y2="247.35" stroke="#000" stroke-width="0.8"/>
<line x1="491.10" y1="247.35" x2="492.90" y2="247.35" stroke="#000" stroke-width="0.6"/>
<path d="M414.00,213.50 L415.60,216.40 L412.40,216.40 Z" fill="#111"/>
<path d="M420.50,230.94 L422.10,233.84 L418.90,233.84 Z" fill="#111"/>
<path d="M427.00,232.03 L428.60,234.93 L425.40,234.93 Z" fill="#111"/>
<path d="M440.00,239.66 L441.60,242.56 L438.40,242.56 Z" fill="#111"/>
<path d="M492.00,250.01 L493.60,252.91 L490.40,252.91 Z" fill="#111"/>
<polyline fill="none" stroke="#111" stroke-width="1.05" points="414.00,269.70 420.50,266.43 427.00,263.70 440.00,260.98 492.00,257.71"/>
<line x1="420.50" y1="265.88" x2="420.50" y2="266.98" stroke="#000" stroke-width="0.8"/>
<line x1="427.00" y1="263.16" x2="427.00" y2="264.25" stroke="#000" stroke-width="0.8"/>
<line x1="440.00" y1="259.34" x2="440.00" y2="262.61" stroke="#000" stroke-width="0.8"/>
<line x1="492.00" y1="255.53" x2="492.00" y2="259.89" stroke="#000" stroke-width="0.8"/>
<rect x="412.75" y="268.45" width="2.5" height="2.5" fill="#333" stroke="#000" stroke-width="0.5"/>
<rect x="419.25" y="265.18" width="2.5" height="2.5" fill="#333" stroke="#000" stroke-width="0.5"/>
<rect x="425.75" y="262.45" width="2.5" height="2.5" fill="#333" stroke="#000" stroke-width="0.5"/>
<rect x="438.75" y="259.73" width="2.5" height="2.5" fill="#333" stroke="#000" stroke-width="0.5"/>
<rect x="490.75" y="256.46" width="2.5" height="2.5" fill="#333" stroke="#000" stroke-width="0.5"/>
<polyline fill="none" stroke="#111" stroke-width="1.05" points="414.00,215.20 420.50,235.91 427.00,239.72 440.00,250.08 492.00,263.70"/>
<line x1="420.50" y1="235.91" x2="420.50" y2="240.27" stroke="#000" stroke-width="0.8"/>
<line x1="419.60" y1="240.27" x2="421.40" y2="240.27" stroke="#000" stroke-width="0.6"/>
<line x1="427.00" y1="239.72" x2="427.00" y2="244.09" stroke="#000" stroke-width="0.8"/>
<line x1="426.10" y1="244.09" x2="427.90" y2="244.09" stroke="#000" stroke-width="0.6"/>
<line x1="440.00" y1="250.08" x2="440.00" y2="255.53" stroke="#000" stroke-width="0.8"/>
<line x1="439.10" y1="255.53" x2="440.90" y2="255.53" stroke="#000" stroke-width="0.6"/>
<line x1="492.00" y1="263.70" x2="492.00" y2="265.88" stroke="#000" stroke-width="0.8"/>
<line x1="491.10" y1="265.88" x2="492.90" y2="265.88" stroke="#000" stroke-width="0.6"/>
<circle cx="414.00" cy="215.20" r="1.4" fill="#333" stroke="#000" stroke-width="0.6"/>
<circle cx="420.50" cy="235.91" r="1.4" fill="#333" stroke="#000" stroke-width="0.6"/>
<circle cx="427.00" cy="239.72" r="1.4" fill="#333" stroke="#000" stroke-width="0.6"/>
<circle cx="440.00" cy="250.08" r="1.4" fill="#333" stroke="#000" stroke-width="0.6"/>
<circle cx="492.00" cy="263.70" r="1.4" fill="#333" stroke="#000" stroke-width="0.6"/>
<text x="466.00" y="244.50" font-size="4.8" text-anchor="middle" font-weight="normal" fill="#000" stroke="#000" stroke-width="0.16" >total</text>
<text x="450.90" y="250.50" font-size="4.8" text-anchor="middle" font-weight="normal" fill="#000" stroke="#000" stroke-width="0.16" >cell</text>
<text x="454.70" y="264.70" font-size="4.8" text-anchor="middle" font-weight="normal" fill="#000" stroke="#000" stroke-width="0.16" >medium</text>
<text x="0.00" y="0.00" font-size="10.3" text-anchor="end" font-weight="normal" fill="#000" stroke="#000" stroke-width="0.34" transform="translate(494.5,213.7) scale(1.0,1)">P626L</text>
<text x="497.00" y="259.00" font-size="4.8" text-anchor="start" font-weight="normal" fill="#000" stroke="#000" stroke-width="0.16" >p = 0.0025</text>
<line x1="283.80" y1="301.40" x2="365.90" y2="301.40" stroke="#555" stroke-width="0.55"/>
<line x1="365.90" y1="301.40" x2="365.90" y2="366.90" stroke="#555" stroke-width="0.55"/>
<line x1="283.80" y1="301.10" x2="283.80" y2="367.20" stroke="#111" stroke-width="0.75"/>
<line x1="283.50" y1="366.90" x2="366.20" y2="366.90" stroke="#111" stroke-width="0.75"/>
<line x1="283.80" y1="366.90" x2="285.40" y2="366.90" stroke="#222" stroke-width="0.5"/>
<line x1="364.30" y1="366.90" x2="365.90" y2="366.90" stroke="#222" stroke-width="0.5"/>
<text x="281.80" y="368.60" font-size="4.5" text-anchor="end" font-weight="normal" fill="#000" stroke="#000" stroke-width="0.16" >0</text>
<line x1="283.80" y1="355.96" x2="285.40" y2="355.96" stroke="#222" stroke-width="0.5"/>
<line x1="364.30" y1="355.96" x2="365.90" y2="355.96" stroke="#222" stroke-width="0.5"/>
<text x="281.80" y="357.66" font-size="4.5" text-anchor="end" font-weight="normal" fill="#000" stroke="#000" stroke-width="0.16" >20</text>
<line x1="283.80" y1="345.02" x2="285.40" y2="345.02" stroke="#222" stroke-width="0.5"/>
<line x1="364.30" y1="345.02" x2="365.90" y2="345.02" stroke="#222" stroke-width="0.5"/>
<text x="281.80" y="346.72" font-size="4.5" text-anchor="end" font-weight="normal" fill="#000" stroke="#000" stroke-width="0.16" >40</text>
<line x1="283.80" y1="334.08" x2="285.40" y2="334.08" stroke="#222" stroke-width="0.5"/>
<line x1="364.30" y1="334.08" x2="365.90" y2="334.08" stroke="#222" stroke-width="0.5"/>
<text x="281.80" y="335.78" font-size="4.5" text-anchor="end" font-weight="normal" fill="#000" stroke="#000" stroke-width="0.16" >60</text>
<line x1="283.80" y1="323.14" x2="285.40" y2="323.14" stroke="#222" stroke-width="0.5"/>
<line x1="364.30" y1="323.14" x2="365.90" y2="323.14" stroke="#222" stroke-width="0.5"/>
<text x="281.80" y="324.84" font-size="4.5" text-anchor="end" font-weight="normal" fill="#000" stroke="#000" stroke-width="0.16" >80</text>
<line x1="283.80" y1="312.20" x2="285.40" y2="312.20" stroke="#222" stroke-width="0.5"/>
<line x1="364.30" y1="312.20" x2="365.90" y2="312.20" stroke="#222" stroke-width="0.5"/>
<text x="281.80" y="313.90" font-size="4.5" text-anchor="end" font-weight="normal" fill="#000" stroke="#000" stroke-width="0.16" >100</text>
<line x1="283.80" y1="366.90" x2="283.80" y2="365.30" stroke="#222" stroke-width="0.5"/>
<line x1="283.80" y1="301.40" x2="283.80" y2="303.00" stroke="#222" stroke-width="0.5"/>
<text x="283.80" y="373.10" font-size="4.8" text-anchor="middle" font-weight="normal" fill="#000" stroke="#000" stroke-width="0.16" >0</text>
<line x1="290.36" y1="366.90" x2="290.36" y2="365.30" stroke="#222" stroke-width="0.5"/>
<line x1="290.36" y1="301.40" x2="290.36" y2="303.00" stroke="#222" stroke-width="0.5"/>
<text x="290.36" y="373.10" font-size="4.8" text-anchor="middle" font-weight="normal" fill="#000" stroke="#000" stroke-width="0.16" >2</text>
<line x1="296.92" y1="366.90" x2="296.92" y2="365.30" stroke="#222" stroke-width="0.5"/>
<line x1="296.92" y1="301.40" x2="296.92" y2="303.00" stroke="#222" stroke-width="0.5"/>
<text x="296.92" y="373.10" font-size="4.8" text-anchor="middle" font-weight="normal" fill="#000" stroke="#000" stroke-width="0.16" >4</text>
<line x1="310.03" y1="366.90" x2="310.03" y2="365.30" stroke="#222" stroke-width="0.5"/>
<line x1="310.03" y1="301.40" x2="310.03" y2="303.00" stroke="#222" stroke-width="0.5"/>
<text x="310.03" y="373.10" font-size="4.8" text-anchor="middle" font-weight="normal" fill="#000" stroke="#000" stroke-width="0.16" >8</text>
<line x1="362.50" y1="366.90" x2="362.50" y2="365.30" stroke="#222" stroke-width="0.5"/>
<line x1="362.50" y1="301.40" x2="362.50" y2="303.00" stroke="#222" stroke-width="0.5"/>
<text x="362.50" y="373.10" font-size="4.8" text-anchor="middle" font-weight="normal" fill="#000" stroke="#000" stroke-width="0.16" >24</text>
<text x="281.60" y="304.60" font-size="4.2" text-anchor="end" font-weight="normal" fill="#000" stroke="#000" stroke-width="0.16" >(%)</text>
<text x="367.10" y="372.90" font-size="4.6" text-anchor="start" font-weight="normal" fill="#000" stroke="#000" stroke-width="0.16" >(hrs)</text>
<polyline fill="none" stroke="#111" stroke-width="1.05" points="283.80,312.20 290.36,324.78 296.92,323.14 310.03,322.05 362.50,324.78"/>
<line x1="290.36" y1="324.78" x2="290.36" y2="323.69" stroke="#000" stroke-width="0.8"/>
<line x1="289.46" y1="323.69" x2="291.26" y2="323.69" stroke="#000" stroke-width="0.6"/>
<line x1="296.92" y1="323.14" x2="296.92" y2="319.86" stroke="#000" stroke-width="0.8"/>
<line x1="296.02" y1="319.86" x2="297.82" y2="319.86" stroke="#000" stroke-width="0.6"/>
<line x1="310.03" y1="322.05" x2="310.03" y2="316.03" stroke="#000" stroke-width="0.8"/>
<line x1="309.13" y1="316.03" x2="310.93" y2="316.03" stroke="#000" stroke-width="0.6"/>
<line x1="362.50" y1="324.78" x2="362.50" y2="320.41" stroke="#000" stroke-width="0.8"/>
<line x1="361.60" y1="320.41" x2="363.40" y2="320.41" stroke="#000" stroke-width="0.6"/>
<path d="M283.80,310.50 L285.40,313.40 L282.20,313.40 Z" fill="#111"/>
<path d="M290.36,323.08 L291.96,325.98 L288.76,325.98 Z" fill="#111"/>
<path d="M296.92,321.44 L298.52,324.34 L295.32,324.34 Z" fill="#111"/>
<path d="M310.03,320.35 L311.63,323.25 L308.43,323.25 Z" fill="#111"/>
<path d="M362.50,323.08 L364.10,325.98 L360.90,325.98 Z" fill="#111"/>
<polyline fill="none" stroke="#111" stroke-width="1.05" points="283.80,366.90 290.36,349.40 296.92,340.64 310.03,334.63 362.50,329.16"/>
<line x1="290.36" y1="347.21" x2="290.36" y2="351.58" stroke="#000" stroke-width="0.8"/>
<line x1="296.92" y1="337.36" x2="296.92" y2="343.93" stroke="#000" stroke-width="0.8"/>
<line x1="310.03" y1="329.16" x2="310.03" y2="340.10" stroke="#000" stroke-width="0.8"/>
<line x1="362.50" y1="327.52" x2="362.50" y2="330.80" stroke="#000" stroke-width="0.8"/>
<rect x="282.55" y="365.65" width="2.5" height="2.5" fill="#333" stroke="#000" stroke-width="0.5"/>
<rect x="289.11" y="348.15" width="2.5" height="2.5" fill="#333" stroke="#000" stroke-width="0.5"/>
<rect x="295.67" y="339.39" width="2.5" height="2.5" fill="#333" stroke="#000" stroke-width="0.5"/>
<rect x="308.78" y="333.38" width="2.5" height="2.5" fill="#333" stroke="#000" stroke-width="0.5"/>
<rect x="361.25" y="327.91" width="2.5" height="2.5" fill="#333" stroke="#000" stroke-width="0.5"/>
<polyline fill="none" stroke="#111" stroke-width="1.05" points="283.80,313.84 290.36,341.74 296.92,349.94 310.03,355.41 362.50,361.98"/>
<line x1="290.36" y1="341.74" x2="290.36" y2="343.93" stroke="#000" stroke-width="0.8"/>
<line x1="289.46" y1="343.93" x2="291.26" y2="343.93" stroke="#000" stroke-width="0.6"/>
<line x1="296.92" y1="349.94" x2="296.92" y2="355.41" stroke="#000" stroke-width="0.8"/>
<line x1="296.02" y1="355.41" x2="297.82" y2="355.41" stroke="#000" stroke-width="0.6"/>
<line x1="310.03" y1="355.41" x2="310.03" y2="357.05" stroke="#000" stroke-width="0.8"/>
<line x1="309.13" y1="357.05" x2="310.93" y2="357.05" stroke="#000" stroke-width="0.6"/>
<line x1="362.50" y1="361.98" x2="362.50" y2="363.62" stroke="#000" stroke-width="0.8"/>
<line x1="361.60" y1="363.62" x2="363.40" y2="363.62" stroke="#000" stroke-width="0.6"/>
<circle cx="283.80" cy="313.84" r="1.4" fill="#333" stroke="#000" stroke-width="0.6"/>
<circle cx="290.36" cy="341.74" r="1.4" fill="#333" stroke="#000" stroke-width="0.6"/>
<circle cx="296.92" cy="349.94" r="1.4" fill="#333" stroke="#000" stroke-width="0.6"/>
<circle cx="310.03" cy="355.41" r="1.4" fill="#333" stroke="#000" stroke-width="0.6"/>
<circle cx="362.50" cy="361.98" r="1.4" fill="#333" stroke="#000" stroke-width="0.6"/>
<text x="336.80" y="322.00" font-size="4.8" text-anchor="middle" font-weight="normal" fill="#000" stroke="#000" stroke-width="0.16" >total</text>
<text x="338.40" y="356.20" font-size="4.8" text-anchor="middle" font-weight="normal" fill="#000" stroke="#000" stroke-width="0.16" >cell</text>
<text x="336.50" y="336.50" font-size="4.8" text-anchor="middle" font-weight="normal" fill="#000" stroke="#000" stroke-width="0.16" >medium</text>
<text x="0.00" y="0.00" font-size="10.3" text-anchor="end" font-weight="normal" fill="#000" stroke="#000" stroke-width="0.34" transform="translate(364.2,310.6) scale(1.0,1)">T57S</text>
<text x="367.20" y="330.50" font-size="4.8" text-anchor="start" font-weight="normal" fill="#000" stroke="#000" stroke-width="0.16" >p = 0.6050</text>
<line x1="414.00" y1="302.00" x2="495.70" y2="302.00" stroke="#555" stroke-width="0.55"/>
<line x1="495.70" y1="302.00" x2="495.70" y2="367.20" stroke="#555" stroke-width="0.55"/>
<line x1="414.00" y1="301.70" x2="414.00" y2="367.50" stroke="#111" stroke-width="0.75"/>
<line x1="413.70" y1="367.20" x2="496.00" y2="367.20" stroke="#111" stroke-width="0.75"/>
<line x1="414.00" y1="367.20" x2="415.60" y2="367.20" stroke="#222" stroke-width="0.5"/>
<line x1="494.10" y1="367.20" x2="495.70" y2="367.20" stroke="#222" stroke-width="0.5"/>
<text x="412.00" y="368.90" font-size="4.5" text-anchor="end" font-weight="normal" fill="#000" stroke="#000" stroke-width="0.16" >0</text>
<line x1="414.00" y1="356.36" x2="415.60" y2="356.36" stroke="#222" stroke-width="0.5"/>
<line x1="494.10" y1="356.36" x2="495.70" y2="356.36" stroke="#222" stroke-width="0.5"/>
<text x="412.00" y="358.06" font-size="4.5" text-anchor="end" font-weight="normal" fill="#000" stroke="#000" stroke-width="0.16" >20</text>
<line x1="414.00" y1="345.52" x2="415.60" y2="345.52" stroke="#222" stroke-width="0.5"/>
<line x1="494.10" y1="345.52" x2="495.70" y2="345.52" stroke="#222" stroke-width="0.5"/>
<text x="412.00" y="347.22" font-size="4.5" text-anchor="end" font-weight="normal" fill="#000" stroke="#000" stroke-width="0.16" >40</text>
<line x1="414.00" y1="334.68" x2="415.60" y2="334.68" stroke="#222" stroke-width="0.5"/>
<line x1="494.10" y1="334.68" x2="495.70" y2="334.68" stroke="#222" stroke-width="0.5"/>
<text x="412.00" y="336.38" font-size="4.5" text-anchor="end" font-weight="normal" fill="#000" stroke="#000" stroke-width="0.16" >60</text>
<line x1="414.00" y1="323.84" x2="415.60" y2="323.84" stroke="#222" stroke-width="0.5"/>
<line x1="494.10" y1="323.84" x2="495.70" y2="323.84" stroke="#222" stroke-width="0.5"/>
<text x="412.00" y="325.54" font-size="4.5" text-anchor="end" font-weight="normal" fill="#000" stroke="#000" stroke-width="0.16" >80</text>
<line x1="414.00" y1="313.00" x2="415.60" y2="313.00" stroke="#222" stroke-width="0.5"/>
<line x1="494.10" y1="313.00" x2="495.70" y2="313.00" stroke="#222" stroke-width="0.5"/>
<text x="412.00" y="314.70" font-size="4.5" text-anchor="end" font-weight="normal" fill="#000" stroke="#000" stroke-width="0.16" >100</text>
<line x1="414.00" y1="367.20" x2="414.00" y2="365.60" stroke="#222" stroke-width="0.5"/>
<line x1="414.00" y1="302.00" x2="414.00" y2="303.60" stroke="#222" stroke-width="0.5"/>
<text x="414.00" y="373.40" font-size="4.8" text-anchor="middle" font-weight="normal" fill="#000" stroke="#000" stroke-width="0.16" >0</text>
<line x1="420.54" y1="367.20" x2="420.54" y2="365.60" stroke="#222" stroke-width="0.5"/>
<line x1="420.54" y1="302.00" x2="420.54" y2="303.60" stroke="#222" stroke-width="0.5"/>
<text x="420.54" y="373.40" font-size="4.8" text-anchor="middle" font-weight="normal" fill="#000" stroke="#000" stroke-width="0.16" >2</text>
<line x1="427.08" y1="367.20" x2="427.08" y2="365.60" stroke="#222" stroke-width="0.5"/>
<line x1="427.08" y1="302.00" x2="427.08" y2="303.60" stroke="#222" stroke-width="0.5"/>
<text x="427.08" y="373.40" font-size="4.8" text-anchor="middle" font-weight="normal" fill="#000" stroke="#000" stroke-width="0.16" >4</text>
<line x1="440.17" y1="367.20" x2="440.17" y2="365.60" stroke="#222" stroke-width="0.5"/>
<line x1="440.17" y1="302.00" x2="440.17" y2="303.60" stroke="#222" stroke-width="0.5"/>
<text x="440.17" y="373.40" font-size="4.8" text-anchor="middle" font-weight="normal" fill="#000" stroke="#000" stroke-width="0.16" >8</text>
<line x1="492.50" y1="367.20" x2="492.50" y2="365.60" stroke="#222" stroke-width="0.5"/>
<line x1="492.50" y1="302.00" x2="492.50" y2="303.60" stroke="#222" stroke-width="0.5"/>
<text x="492.50" y="373.40" font-size="4.8" text-anchor="middle" font-weight="normal" fill="#000" stroke="#000" stroke-width="0.16" >24</text>
<text x="411.80" y="305.40" font-size="4.2" text-anchor="end" font-weight="normal" fill="#000" stroke="#000" stroke-width="0.16" >(%)</text>
<text x="497.90" y="373.20" font-size="4.6" text-anchor="start" font-weight="normal" fill="#000" stroke="#000" stroke-width="0.16" >(hrs)</text>
<polyline fill="none" stroke="#111" stroke-width="1.05" points="414.00,313.00 420.54,314.08 427.08,311.37 440.17,315.71 492.50,325.47"/>
<line x1="420.54" y1="314.08" x2="420.54" y2="308.66" stroke="#000" stroke-width="0.8"/>
<line x1="419.64" y1="308.66" x2="421.44" y2="308.66" stroke="#000" stroke-width="0.6"/>
<line x1="427.08" y1="311.37" x2="427.08" y2="304.87" stroke="#000" stroke-width="0.8"/>
<line x1="426.18" y1="304.87" x2="427.98" y2="304.87" stroke="#000" stroke-width="0.6"/>
<line x1="440.17" y1="315.71" x2="440.17" y2="306.50" stroke="#000" stroke-width="0.8"/>
<line x1="439.27" y1="306.50" x2="441.07" y2="306.50" stroke="#000" stroke-width="0.6"/>
<line x1="492.50" y1="325.47" x2="492.50" y2="316.25" stroke="#000" stroke-width="0.8"/>
<line x1="491.60" y1="316.25" x2="493.40" y2="316.25" stroke="#000" stroke-width="0.6"/>
<path d="M414.00,311.30 L415.60,314.20 L412.40,314.20 Z" fill="#111"/>
<path d="M420.54,312.38 L422.14,315.28 L418.94,315.28 Z" fill="#111"/>
<path d="M427.08,309.67 L428.68,312.57 L425.48,312.57 Z" fill="#111"/>
<path d="M440.17,314.01 L441.77,316.91 L438.57,316.91 Z" fill="#111"/>
<path d="M492.50,323.77 L494.10,326.67 L490.90,326.67 Z" fill="#111"/>
<polyline fill="none" stroke="#111" stroke-width="1.05" points="414.00,367.20 420.54,356.36 427.08,344.44 440.17,336.85 492.50,332.51"/>
<line x1="420.54" y1="354.73" x2="420.54" y2="357.99" stroke="#000" stroke-width="0.8"/>
<line x1="427.08" y1="340.10" x2="427.08" y2="348.77" stroke="#000" stroke-width="0.8"/>
<line x1="440.17" y1="333.60" x2="440.17" y2="340.10" stroke="#000" stroke-width="0.8"/>
<line x1="492.50" y1="323.84" x2="492.50" y2="341.18" stroke="#000" stroke-width="0.8"/>
<rect x="412.75" y="365.95" width="2.5" height="2.5" fill="#333" stroke="#000" stroke-width="0.5"/>
<rect x="419.29" y="355.11" width="2.5" height="2.5" fill="#333" stroke="#000" stroke-width="0.5"/>
<rect x="425.83" y="343.19" width="2.5" height="2.5" fill="#333" stroke="#000" stroke-width="0.5"/>
<rect x="438.92" y="335.60" width="2.5" height="2.5" fill="#333" stroke="#000" stroke-width="0.5"/>
<rect x="491.25" y="331.26" width="2.5" height="2.5" fill="#333" stroke="#000" stroke-width="0.5"/>
<polyline fill="none" stroke="#111" stroke-width="1.05" points="414.00,313.00 420.54,326.55 427.08,334.68 440.17,346.60 492.50,360.70"/>
<line x1="420.54" y1="326.55" x2="420.54" y2="330.89" stroke="#000" stroke-width="0.8"/>
<line x1="419.64" y1="330.89" x2="421.44" y2="330.89" stroke="#000" stroke-width="0.6"/>
<line x1="427.08" y1="334.68" x2="427.08" y2="336.31" stroke="#000" stroke-width="0.8"/>
<line x1="426.18" y1="336.31" x2="427.98" y2="336.31" stroke="#000" stroke-width="0.6"/>
<line x1="440.17" y1="346.60" x2="440.17" y2="352.02" stroke="#000" stroke-width="0.8"/>
<line x1="439.27" y1="352.02" x2="441.07" y2="352.02" stroke="#000" stroke-width="0.6"/>
<line x1="492.50" y1="360.70" x2="492.50" y2="362.32" stroke="#000" stroke-width="0.8"/>
<line x1="491.60" y1="362.32" x2="493.40" y2="362.32" stroke="#000" stroke-width="0.6"/>
<circle cx="414.00" cy="313.00" r="1.4" fill="#333" stroke="#000" stroke-width="0.6"/>
<circle cx="420.54" cy="326.55" r="1.4" fill="#333" stroke="#000" stroke-width="0.6"/>
<circle cx="427.08" cy="334.68" r="1.4" fill="#333" stroke="#000" stroke-width="0.6"/>
<circle cx="440.17" cy="346.60" r="1.4" fill="#333" stroke="#000" stroke-width="0.6"/>
<circle cx="492.50" cy="360.70" r="1.4" fill="#333" stroke="#000" stroke-width="0.6"/>
<text x="458.60" y="324.00" font-size="4.8" text-anchor="middle" font-weight="normal" fill="#000" stroke="#000" stroke-width="0.16" >total</text>
<text x="458.00" y="356.50" font-size="4.8" text-anchor="middle" font-weight="normal" fill="#000" stroke="#000" stroke-width="0.16" >cell</text>
<text x="458.90" y="339.50" font-size="4.8" text-anchor="middle" font-weight="normal" fill="#000" stroke="#000" stroke-width="0.16" >medium</text>
<text x="0.00" y="0.00" font-size="10.3" text-anchor="end" font-weight="normal" fill="#000" stroke="#000" stroke-width="0.34" transform="translate(494.4,311.0) scale(1.0,1)">I518M</text>
<text x="497.00" y="333.30" font-size="4.8" text-anchor="start" font-weight="normal" fill="#000" stroke="#000" stroke-width="0.16" >p = 0.9644</text>
<text x="0.00" y="0.00" font-size="29" text-anchor="middle" font-weight="normal" fill="#000" stroke="#000" stroke-width="0.32" transform="translate(40.55,44.6) scale(0.89,1)">A</text>
<text x="307.60" y="45.40" font-size="29.2" text-anchor="start" font-weight="normal" fill="#000" stroke="#000" stroke-width="0.32" >B</text>
</g>
</svg>
</body></html>
